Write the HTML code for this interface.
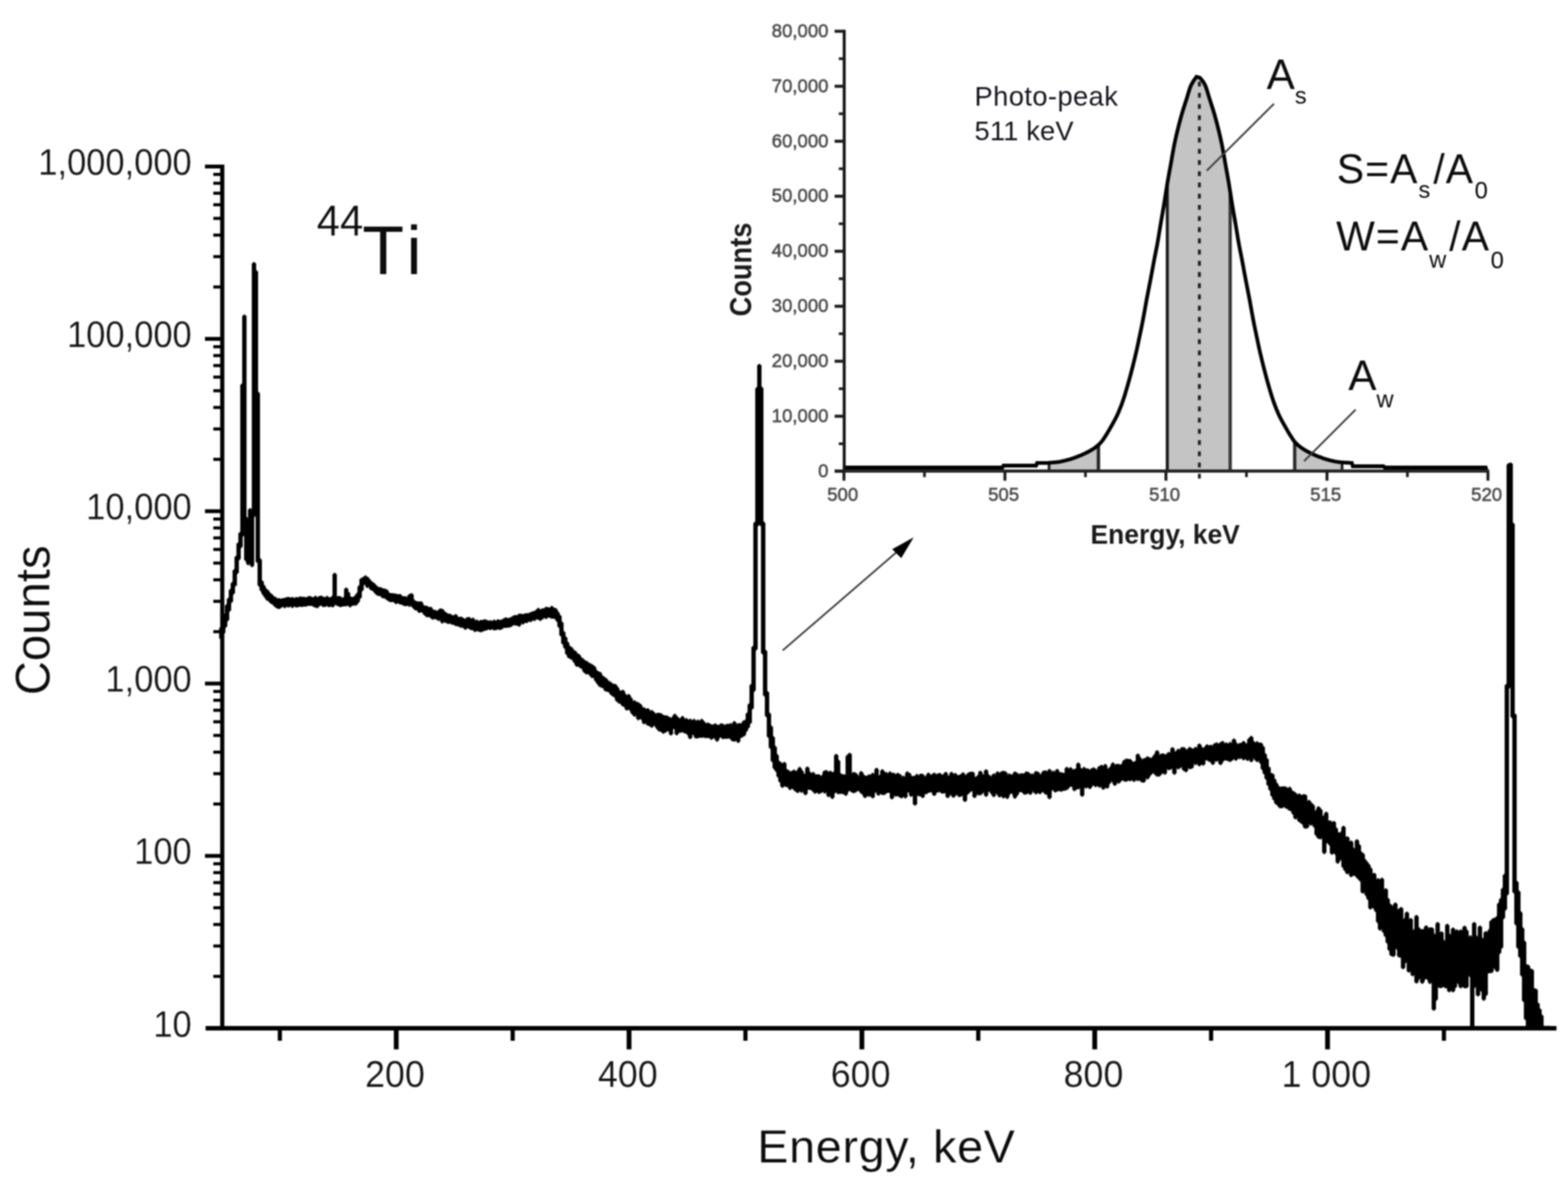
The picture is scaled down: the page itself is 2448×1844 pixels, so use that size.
<!DOCTYPE html>
<html lang="en"><head><meta charset="utf-8"><title>44Ti gamma spectrum</title>
<style>
html,body{margin:0;padding:0;background:#fff;}
body{width:2448px;height:1844px;overflow:hidden;}
svg{display:block;filter:blur(0.9px);}
text{font-family:"Liberation Sans",Arial,Helvetica,sans-serif;}
.thin{stroke:#fff;stroke-width:0.25px;stroke-linejoin:round;}
.f{stroke-width:0;}
.sub{font-size:37px;stroke-width:0;}
.t{font-size:57px;fill:#151515;}
.it{font-size:29px;fill:#4c4c4c;stroke:#4c4c4c;stroke-width:0.8px;}
</style></head><body>
<svg width="2448" height="1844" viewBox="0 0 2448 1844">
<rect x="0" y="0" width="2448" height="1844" fill="#fff"/>
<g id="inset">
<polygon points="1317.6,735.8 1317.6,729.8 1318.0,729.8 1319.5,729.8 1321.0,729.8 1322.5,729.8 1324.0,729.8 1325.5,729.8 1327.0,729.8 1328.5,729.8 1330.0,729.8 1331.5,729.8 1333.0,729.8 1334.5,729.8 1336.0,729.8 1337.5,729.8 1339.0,729.8 1340.5,729.8 1342.0,729.8 1343.5,729.8 1345.0,729.8 1346.5,729.8 1348.0,729.8 1349.5,729.8 1351.0,729.8 1352.5,729.8 1354.0,729.8 1355.5,729.8 1357.0,729.8 1358.5,729.8 1360.0,729.8 1361.5,729.8 1363.0,729.8 1364.5,729.8 1366.0,729.8 1367.5,729.8 1369.0,729.8 1370.5,729.8 1372.0,729.8 1373.5,729.8 1375.0,729.8 1376.5,729.8 1378.0,729.8 1379.5,729.8 1381.0,729.8 1382.5,729.8 1384.0,729.8 1385.5,729.8 1387.0,729.8 1388.5,729.8 1390.0,729.8 1391.5,729.8 1393.0,729.8 1394.5,729.8 1396.0,729.8 1397.5,729.8 1399.0,729.8 1400.5,729.8 1402.0,729.8 1403.5,729.8 1405.0,729.8 1406.5,729.8 1408.0,729.8 1409.5,729.8 1411.0,729.8 1412.5,729.8 1414.0,729.8 1415.5,729.8 1417.0,729.8 1418.5,729.8 1420.0,729.8 1421.5,729.8 1423.0,729.8 1424.5,729.8 1426.0,729.8 1427.5,729.8 1429.0,729.8 1430.5,729.8 1432.0,729.8 1433.5,729.8 1435.0,729.8 1436.5,729.8 1438.0,729.8 1439.5,729.8 1441.0,729.8 1442.5,729.8 1444.0,729.8 1445.5,729.8 1447.0,729.8 1448.5,729.8 1450.0,729.8 1451.5,729.8 1453.0,729.8 1454.5,729.8 1456.0,729.8 1457.5,729.8 1459.0,729.8 1460.5,729.8 1462.0,729.8 1463.5,729.8 1465.0,729.8 1466.5,729.8 1468.0,729.8 1469.5,729.8 1471.0,729.8 1472.5,729.8 1474.0,729.8 1475.5,729.8 1477.0,729.8 1478.5,729.8 1480.0,729.8 1481.5,729.8 1483.0,729.8 1484.5,729.8 1486.0,729.8 1487.5,729.8 1489.0,729.8 1490.5,729.8 1492.0,729.8 1493.5,729.8 1495.0,729.8 1496.5,729.8 1498.0,729.8 1499.5,729.8 1501.0,729.8 1502.5,729.8 1504.0,729.8 1505.5,729.8 1507.0,729.8 1508.5,729.8 1510.0,729.8 1511.5,729.8 1513.0,729.8 1514.5,729.8 1516.0,729.8 1517.5,729.8 1519.0,729.8 1520.5,729.8 1522.0,729.8 1523.5,729.8 1525.0,729.8 1526.5,729.8 1528.0,729.8 1529.5,729.8 1531.0,729.8 1532.5,729.8 1534.0,729.8 1535.5,729.8 1537.0,729.8 1538.5,729.8 1540.0,729.8 1541.5,729.8 1543.0,729.8 1544.5,729.8 1546.0,729.8 1547.5,729.8 1549.0,729.8 1550.5,729.8 1552.0,729.8 1553.5,729.8 1555.0,729.8 1556.5,729.8 1558.0,729.8 1559.5,729.8 1561.0,729.8 1562.5,729.8 1564.0,729.8 1565.5,729.8 1566.5,727.0 1566.5,735.8" fill="#000"/>
<polygon points="2161.0,735.8 2161.0,728.0 2161.0,728.0 2162.5,729.8 2164.0,729.8 2165.5,729.8 2167.0,729.8 2168.5,729.8 2170.0,729.8 2171.5,729.8 2173.0,729.8 2174.5,729.8 2176.0,729.8 2177.5,729.8 2179.0,729.8 2180.5,729.8 2182.0,729.8 2183.5,729.8 2185.0,729.8 2186.5,729.8 2188.0,729.8 2189.5,729.8 2191.0,729.8 2192.5,729.8 2194.0,729.8 2195.5,729.8 2197.0,729.8 2198.5,729.8 2200.0,729.8 2201.5,729.8 2203.0,729.8 2204.5,729.8 2206.0,729.8 2207.5,729.8 2209.0,729.8 2210.5,729.8 2212.0,729.8 2213.5,729.8 2215.0,729.8 2216.5,729.8 2218.0,729.8 2219.5,729.8 2221.0,729.8 2222.5,729.8 2224.0,729.8 2225.5,729.8 2227.0,729.8 2228.5,729.8 2230.0,729.8 2231.5,729.8 2233.0,729.8 2234.5,729.8 2236.0,729.8 2237.5,729.8 2239.0,729.8 2240.5,729.8 2242.0,729.8 2243.5,729.8 2245.0,729.8 2246.5,729.8 2248.0,729.8 2249.5,729.8 2251.0,729.8 2252.5,729.8 2254.0,729.8 2255.5,729.8 2257.0,729.8 2258.5,729.8 2260.0,729.8 2261.5,729.8 2263.0,729.8 2264.5,729.8 2266.0,729.8 2267.5,729.8 2269.0,729.8 2270.5,729.8 2272.0,729.8 2273.5,729.8 2275.0,729.8 2276.5,729.8 2278.0,729.8 2279.5,729.8 2281.0,729.8 2282.5,729.8 2284.0,729.8 2285.5,729.8 2287.0,729.8 2288.5,729.8 2290.0,729.8 2291.5,729.8 2293.0,729.8 2294.5,729.8 2296.0,729.8 2297.5,729.8 2299.0,729.8 2300.5,729.8 2302.0,729.8 2303.5,729.8 2305.0,729.8 2306.5,729.8 2308.0,729.8 2309.5,729.8 2311.0,729.8 2312.5,729.8 2314.0,729.8 2315.5,729.8 2317.0,729.8 2318.5,729.8 2320.0,729.8 2321.5,729.8 2323.0,729.8 2323.0,735.8" fill="#000"/>
<polygon points="1637.8,735.8 1637.8,722.8 1638.0,722.5 1639.5,722.4 1641.0,722.3 1642.5,722.2 1644.0,722.1 1645.5,722.0 1647.0,721.8 1648.5,721.7 1650.0,721.6 1651.5,721.4 1653.0,721.2 1654.5,720.9 1656.0,720.7 1657.5,720.4 1659.0,720.0 1660.5,719.7 1662.0,719.3 1663.5,719.0 1665.0,718.6 1666.5,718.2 1668.0,717.8 1669.5,717.4 1671.0,716.9 1672.5,716.4 1674.0,715.9 1675.5,715.4 1677.0,714.9 1678.5,714.3 1680.0,713.8 1681.5,713.2 1683.0,712.7 1684.5,712.1 1686.0,711.5 1687.5,710.8 1689.0,710.2 1690.5,709.5 1692.0,708.9 1693.5,708.2 1695.0,707.4 1696.5,706.7 1698.0,705.9 1699.5,705.2 1701.0,704.3 1702.5,703.5 1704.0,702.6 1705.5,701.7 1707.0,700.7 1708.5,699.7 1710.0,698.6 1711.5,697.5 1713.0,696.3 1714.5,695.0 1714.8,694.8 1714.8,735.8" fill="#c4c4c4"/>
<polygon points="1822.4,735.8 1822.4,286.8 1823.0,283.2 1824.5,274.7 1826.0,266.4 1827.5,258.2 1829.0,249.8 1830.5,241.1 1832.0,232.7 1833.5,225.0 1835.0,218.0 1836.5,211.4 1838.0,205.1 1839.5,199.0 1841.0,193.1 1842.5,187.4 1844.0,182.0 1845.5,176.7 1847.0,171.7 1848.5,166.9 1850.0,162.2 1851.5,157.6 1853.0,153.0 1854.5,148.0 1856.0,142.9 1857.5,138.1 1859.0,134.2 1860.5,131.1 1862.0,128.4 1863.5,126.0 1865.0,124.1 1866.5,122.4 1868.0,121.0 1869.5,119.9 1871.0,119.6 1872.5,120.6 1874.0,121.9 1875.5,123.5 1877.0,125.3 1878.5,127.6 1880.0,130.2 1881.5,133.1 1883.0,136.7 1884.5,141.2 1886.0,146.3 1887.5,151.4 1889.0,156.1 1890.5,160.7 1892.0,165.3 1893.5,170.0 1895.0,175.0 1896.5,180.2 1898.0,185.6 1899.5,191.2 1901.0,197.0 1902.5,203.0 1904.0,209.2 1905.5,215.7 1907.0,222.6 1908.5,230.1 1910.0,238.3 1911.5,246.9 1913.0,255.4 1914.5,263.7 1916.0,271.9 1917.5,280.3 1919.0,289.2 1920.5,298.8 1920.6,299.5 1920.6,735.8" fill="#c4c4c4"/>
<polygon points="2021.3,735.8 2021.3,689.8 2022.0,690.6 2023.5,692.2 2025.0,693.6 2026.5,695.0 2028.0,696.3 2029.5,697.5 2031.0,698.6 2032.5,699.7 2034.0,700.7 2035.5,701.7 2037.0,702.6 2038.5,703.5 2040.0,704.3 2041.5,705.2 2043.0,705.9 2044.5,706.7 2046.0,707.4 2047.5,708.2 2049.0,708.9 2050.5,709.5 2052.0,710.2 2053.5,710.8 2055.0,711.5 2056.5,712.1 2058.0,712.7 2059.5,713.2 2061.0,713.8 2062.5,714.3 2064.0,714.9 2065.5,715.4 2067.0,715.9 2068.5,716.4 2070.0,716.9 2071.5,717.4 2073.0,717.8 2074.5,718.2 2076.0,718.6 2077.5,719.0 2079.0,719.3 2080.5,719.7 2082.0,720.0 2083.5,720.4 2085.0,720.7 2086.5,720.9 2088.0,721.2 2089.5,721.4 2091.0,721.6 2092.5,721.7 2094.0,721.8 2095.3,722.0 2095.3,735.8" fill="#c4c4c4"/>
<line x1="1637.8" y1="722.8" x2="1637.8" y2="736" stroke="#1c1c1c" stroke-width="4.2"/>
<line x1="1714.9" y1="694.7" x2="1714.9" y2="736" stroke="#222" stroke-width="5.2"/>
<line x1="1822.4" y1="286.8" x2="1822.4" y2="736" stroke="#1c1c1c" stroke-width="4.8"/>
<line x1="1920.6" y1="299.5" x2="1920.6" y2="736" stroke="#383838" stroke-width="5.2"/>
<line x1="2021.3" y1="689.8" x2="2021.3" y2="736" stroke="#2a2a2a" stroke-width="5.2"/>
<line x1="2095.3" y1="722.0" x2="2095.3" y2="736" stroke="#1c1c1c" stroke-width="4.2"/>
<line x1="1872.5" y1="127.5" x2="1872.5" y2="748" stroke="#1c1c1c" stroke-width="4.4" stroke-dasharray="7.6 9.89"/>
<polyline points="1317.6,729.8 1319.1,729.8 1320.6,729.8 1322.1,729.8 1323.6,729.8 1325.1,729.8 1326.6,729.8 1328.1,729.8 1329.6,729.8 1331.1,729.8 1332.6,729.8 1334.1,729.8 1335.6,729.8 1337.1,729.8 1338.6,729.8 1340.1,729.8 1341.6,729.8 1343.1,729.8 1344.6,729.8 1346.1,729.8 1347.6,729.8 1349.1,729.8 1350.6,729.8 1352.1,729.8 1353.6,729.8 1355.1,729.8 1356.6,729.8 1358.1,729.8 1359.6,729.8 1361.1,729.8 1362.6,729.8 1364.1,729.8 1365.6,729.8 1367.1,729.8 1368.6,729.8 1370.1,729.8 1371.6,729.8 1373.1,729.8 1374.6,729.8 1376.1,729.8 1377.6,729.8 1379.1,729.8 1380.6,729.8 1382.1,729.8 1383.6,729.8 1385.1,729.8 1386.6,729.8 1388.1,729.8 1389.6,729.8 1391.1,729.8 1392.6,729.8 1394.1,729.8 1395.6,729.8 1397.1,729.8 1398.6,729.8 1400.1,729.8 1401.6,729.8 1403.1,729.8 1404.6,729.8 1406.1,729.8 1407.6,729.8 1409.1,729.8 1410.6,729.8 1412.1,729.8 1413.6,729.8 1415.1,729.8 1416.6,729.8 1418.1,729.8 1419.6,729.8 1421.1,729.8 1422.6,729.8 1424.1,729.8 1425.6,729.8 1427.1,729.8 1428.6,729.8 1430.1,729.8 1431.6,729.8 1433.1,729.8 1434.6,729.8 1436.1,729.8 1437.6,729.8 1439.1,729.8 1440.6,729.8 1442.1,729.8 1443.6,729.8 1445.1,729.8 1446.6,729.8 1448.1,729.8 1449.6,729.8 1451.1,729.8 1452.6,729.8 1454.1,729.8 1455.6,729.8 1457.1,729.8 1458.6,729.8 1460.1,729.8 1461.6,729.8 1463.1,729.8 1464.6,729.8 1466.1,729.8 1467.6,729.8 1469.1,729.8 1470.6,729.8 1472.1,729.8 1473.6,729.8 1475.1,729.8 1476.6,729.8 1478.1,729.8 1479.6,729.8 1481.1,729.8 1482.6,729.8 1484.1,729.8 1485.6,729.8 1487.1,729.8 1488.6,729.8 1490.1,729.8 1491.6,729.8 1493.1,729.8 1494.6,729.8 1496.1,729.8 1497.6,729.8 1499.1,729.8 1500.6,729.8 1502.1,729.8 1503.6,729.8 1505.1,729.8 1506.6,729.8 1508.1,729.8 1509.6,729.8 1511.1,729.8 1512.6,729.8 1514.1,729.8 1515.6,729.8 1517.1,729.8 1518.6,729.8 1520.1,729.8 1521.6,729.8 1523.1,729.8 1524.6,729.8 1526.1,729.8 1527.6,729.8 1529.1,729.8 1530.6,729.8 1532.1,729.8 1533.6,729.8 1535.1,729.8 1536.6,729.8 1538.1,729.8 1539.6,729.8 1541.1,729.8 1542.6,729.8 1544.1,729.8 1545.6,729.8 1547.1,729.8 1548.6,729.8 1550.1,729.8 1551.6,729.8 1553.1,729.8 1554.6,729.8 1556.1,729.8 1557.6,729.8 1559.1,729.8 1560.6,729.8 1562.1,729.8 1563.6,729.8 1565.1,729.8 1566.6,727.0 1568.1,727.0 1569.6,727.0 1571.1,727.0 1572.6,727.0 1574.1,727.0 1575.6,727.0 1577.1,727.0 1578.6,727.0 1580.1,727.0 1581.6,727.0 1583.1,727.0 1584.6,727.0 1586.1,727.0 1587.6,727.0 1589.1,727.0 1590.6,727.0 1592.1,727.0 1593.6,727.0 1595.1,727.0 1596.6,727.0 1598.1,727.0 1599.6,727.0 1601.1,727.0 1602.6,727.0 1604.1,727.0 1605.6,727.0 1607.1,727.0 1608.6,727.0 1610.1,727.0 1611.6,727.0 1613.1,727.0 1614.6,727.0 1616.1,727.0 1617.6,727.0 1619.1,722.8 1620.6,722.8 1622.1,722.8 1623.6,722.8 1625.1,722.8 1626.6,722.8 1628.1,722.8 1629.6,722.8 1631.1,722.8 1632.6,722.8 1634.1,722.8 1635.6,722.8 1637.1,722.8 1638.6,722.4 1640.1,722.3 1641.6,722.3 1643.1,722.2 1644.6,722.0 1646.1,721.9 1647.6,721.8 1649.1,721.6 1650.6,721.5 1652.1,721.3 1653.6,721.1 1655.1,720.8 1656.6,720.5 1658.1,720.2 1659.6,719.9 1661.1,719.5 1662.6,719.2 1664.1,718.8 1665.6,718.4 1667.1,718.0 1668.6,717.6 1670.1,717.2 1671.6,716.7 1673.1,716.2 1674.6,715.7 1676.1,715.2 1677.6,714.7 1679.1,714.1 1680.6,713.6 1682.1,713.0 1683.6,712.4 1685.1,711.8 1686.6,711.2 1688.1,710.6 1689.6,709.9 1691.1,709.3 1692.6,708.6 1694.1,707.9 1695.6,707.1 1697.1,706.4 1698.6,705.6 1700.1,704.8 1701.6,704.0 1703.1,703.1 1704.6,702.2 1706.1,701.3 1707.6,700.3 1709.1,699.3 1710.6,698.2 1712.1,697.0 1713.6,695.8 1715.1,694.5 1716.6,693.1 1718.1,691.6 1719.6,689.9 1721.1,688.1 1722.6,685.9 1724.1,683.6 1725.6,681.3 1727.1,678.9 1728.6,676.5 1730.1,673.9 1731.6,671.4 1733.1,668.8 1734.6,666.1 1736.1,663.5 1737.6,660.9 1739.1,658.2 1740.6,655.4 1742.1,652.5 1743.6,649.5 1745.1,646.3 1746.6,642.8 1748.1,639.2 1749.6,635.4 1751.1,631.4 1752.6,627.2 1754.1,622.9 1755.6,618.3 1757.1,613.4 1758.6,608.3 1760.1,603.2 1761.6,597.9 1763.1,592.5 1764.6,586.9 1766.1,581.2 1767.6,575.4 1769.1,569.5 1770.6,563.4 1772.1,557.2 1773.6,550.9 1775.1,544.3 1776.6,537.3 1778.1,530.1 1779.6,523.0 1781.1,515.8 1782.6,508.6 1784.1,501.0 1785.6,493.1 1787.1,484.8 1788.6,476.4 1790.1,468.1 1791.6,460.2 1793.1,452.5 1794.6,444.9 1796.1,437.2 1797.6,429.2 1799.1,421.1 1800.6,412.9 1802.1,405.0 1803.6,397.4 1805.1,389.9 1806.6,382.2 1808.1,373.7 1809.6,364.6 1811.1,355.4 1812.6,346.5 1814.1,337.8 1815.6,329.2 1817.1,320.4 1818.6,311.1 1820.1,301.4 1821.6,291.8 1823.1,282.6 1824.6,274.1 1826.1,265.9 1827.6,257.7 1829.1,249.2 1830.6,240.5 1832.1,232.2 1833.6,224.5 1835.1,217.5 1836.6,210.9 1838.1,204.7 1839.6,198.6 1841.1,192.7 1842.6,187.1 1844.1,181.6 1845.6,176.4 1847.1,171.3 1848.6,166.6 1850.1,161.9 1851.6,157.3 1853.1,152.7 1854.6,147.7 1856.1,142.5 1857.6,137.8 1859.5,133.1 1863.5,126.0 1868.0,119.8 1873.5,121.5 1878.5,127.6 1881.0,132.1 1882.5,135.4 1884.0,139.6 1885.5,144.6 1887.0,149.7 1888.5,154.6 1890.0,159.2 1891.5,163.8 1893.0,168.5 1894.5,173.3 1896.0,178.4 1897.5,183.8 1899.0,189.3 1900.5,195.0 1902.0,201.0 1903.5,207.1 1905.0,213.5 1906.5,220.3 1908.0,227.5 1909.5,235.5 1911.0,244.0 1912.5,252.6 1914.0,261.0 1915.5,269.2 1917.0,277.5 1918.5,286.2 1920.0,295.6 1921.5,305.3 1923.0,314.9 1924.5,324.0 1926.0,332.7 1927.5,341.3 1929.0,350.0 1930.5,359.1 1932.0,368.3 1933.5,377.2 1935.0,385.3 1936.5,392.9 1938.0,400.4 1939.5,408.1 1941.0,416.2 1942.5,424.4 1944.0,432.4 1945.5,440.3 1947.0,447.9 1948.5,455.6 1950.0,463.4 1951.5,471.4 1953.0,479.8 1954.5,488.2 1956.0,496.3 1957.5,504.1 1959.0,511.5 1960.5,518.7 1962.0,525.8 1963.5,533.0 1965.0,540.2 1966.5,547.0 1968.0,553.4 1969.5,559.7 1971.0,565.9 1972.5,571.9 1974.0,577.7 1975.5,583.5 1977.0,589.2 1978.5,594.7 1980.0,600.1 1981.5,605.3 1983.0,610.4 1984.5,615.4 1986.0,620.1 1987.5,624.7 1989.0,628.9 1990.5,633.0 1992.0,636.9 1993.5,640.7 1995.0,644.2 1996.5,647.6 1998.0,650.7 1999.5,653.7 2001.0,656.5 2002.5,659.2 2004.0,661.9 2005.5,664.5 2007.0,667.2 2008.5,669.8 2010.0,672.4 2011.5,674.9 2013.0,677.4 2014.5,679.9 2016.0,682.2 2017.5,684.5 2019.0,686.8 2020.5,688.9 2022.0,690.6 2023.5,692.2 2025.0,693.6 2026.5,695.0 2028.0,696.3 2029.5,697.5 2031.0,698.6 2032.5,699.7 2034.0,700.7 2035.5,701.7 2037.0,702.6 2038.5,703.5 2040.0,704.3 2041.5,705.2 2043.0,705.9 2044.5,706.7 2046.0,707.4 2047.5,708.2 2049.0,708.9 2050.5,709.5 2052.0,710.2 2053.5,710.8 2055.0,711.5 2056.5,712.1 2058.0,712.7 2059.5,713.2 2061.0,713.8 2062.5,714.3 2064.0,714.9 2065.5,715.4 2067.0,715.9 2068.5,716.4 2070.0,716.9 2071.5,717.4 2073.0,717.8 2074.5,718.2 2076.0,718.6 2077.5,719.0 2079.0,719.3 2080.5,719.7 2082.0,720.0 2083.5,720.4 2085.0,720.7 2086.5,720.9 2088.0,721.2 2089.5,721.4 2091.0,721.6 2092.5,721.7 2094.0,721.8 2095.5,722.0 2097.0,722.1 2098.5,722.2 2100.0,722.3 2101.5,722.4 2103.0,722.5 2104.5,722.5 2106.0,722.6 2107.5,722.7 2109.0,722.8 2110.5,722.8 2112.0,728.0 2113.5,728.0 2115.0,728.0 2116.5,728.0 2118.0,728.0 2119.5,728.0 2121.0,728.0 2122.5,728.0 2124.0,728.0 2125.5,728.0 2127.0,728.0 2128.5,728.0 2130.0,728.0 2131.5,728.0 2133.0,728.0 2134.5,728.0 2136.0,728.0 2137.5,728.0 2139.0,728.0 2140.5,728.0 2142.0,728.0 2143.5,728.0 2145.0,728.0 2146.5,728.0 2148.0,728.0 2149.5,728.0 2151.0,728.0 2152.5,728.0 2154.0,728.0 2155.5,728.0 2157.0,728.0 2158.5,728.0 2160.0,728.0 2161.5,729.8 2163.0,729.8 2164.5,729.8 2166.0,729.8 2167.5,729.8 2169.0,729.8 2170.5,729.8 2172.0,729.8 2173.5,729.8 2175.0,729.8 2176.5,729.8 2178.0,729.8 2179.5,729.8 2181.0,729.8 2182.5,729.8 2184.0,729.8 2185.5,729.8 2187.0,729.8 2188.5,729.8 2190.0,729.8 2191.5,729.8 2193.0,729.8 2194.5,729.8 2196.0,729.8 2197.5,729.8 2199.0,729.8 2200.5,729.8 2202.0,729.8 2203.5,729.8 2205.0,729.8 2206.5,729.8 2208.0,729.8 2209.5,729.8 2211.0,729.8 2212.5,729.8 2214.0,729.8 2215.5,729.8 2217.0,729.8 2218.5,729.8 2220.0,729.8 2221.5,729.8 2223.0,729.8 2224.5,729.8 2226.0,729.8 2227.5,729.8 2229.0,729.8 2230.5,729.8 2232.0,729.8 2233.5,729.8 2235.0,729.8 2236.5,729.8 2238.0,729.8 2239.5,729.8 2241.0,729.8 2242.5,729.8 2244.0,729.8 2245.5,729.8 2247.0,729.8 2248.5,729.8 2250.0,729.8 2251.5,729.8 2253.0,729.8 2254.5,729.8 2256.0,729.8 2257.5,729.8 2259.0,729.8 2260.5,729.8 2262.0,729.8 2263.5,729.8 2265.0,729.8 2266.5,729.8 2268.0,729.8 2269.5,729.8 2271.0,729.8 2272.5,729.8 2274.0,729.8 2275.5,729.8 2277.0,729.8 2278.5,729.8 2280.0,729.8 2281.5,729.8 2283.0,729.8 2284.5,729.8 2286.0,729.8 2287.5,729.8 2289.0,729.8 2290.5,729.8 2292.0,729.8 2293.5,729.8 2295.0,729.8 2296.5,729.8 2298.0,729.8 2299.5,729.8 2301.0,729.8 2302.5,729.8 2304.0,729.8 2305.5,729.8 2307.0,729.8 2308.5,729.8 2310.0,729.8 2311.5,729.8 2313.0,729.8 2314.5,729.8 2316.0,729.8 2317.5,729.8 2319.0,729.8 2320.5,729.8 2322.0,729.8" fill="none" stroke="#000" stroke-width="5.8" stroke-linejoin="miter"/>
<line x1="1318" y1="46.5" x2="1318" y2="738" stroke="#111" stroke-width="4.6"/>
<line x1="1303" y1="735.5" x2="2325" y2="735.5" stroke="#262626" stroke-width="5"/>
<line x1="1303" y1="735.8" x2="1318" y2="735.8" stroke="#1c1c1c" stroke-width="4.8"/>
<text class="it" x="1293.5" y="744.8" text-anchor="end">0</text>
<line x1="1309.5" y1="692.9" x2="1318" y2="692.9" stroke="#1c1c1c" stroke-width="4.2"/>
<line x1="1303" y1="649.9" x2="1318" y2="649.9" stroke="#1c1c1c" stroke-width="4.8"/>
<text class="it" x="1293.5" y="658.9" text-anchor="end">10,000</text>
<line x1="1309.5" y1="607.0" x2="1318" y2="607.0" stroke="#1c1c1c" stroke-width="4.2"/>
<line x1="1303" y1="564.0" x2="1318" y2="564.0" stroke="#1c1c1c" stroke-width="4.8"/>
<text class="it" x="1293.5" y="573.0" text-anchor="end">20,000</text>
<line x1="1309.5" y1="521.1" x2="1318" y2="521.1" stroke="#1c1c1c" stroke-width="4.2"/>
<line x1="1303" y1="478.2" x2="1318" y2="478.2" stroke="#1c1c1c" stroke-width="4.8"/>
<text class="it" x="1293.5" y="487.2" text-anchor="end">30,000</text>
<line x1="1309.5" y1="435.2" x2="1318" y2="435.2" stroke="#1c1c1c" stroke-width="4.2"/>
<line x1="1303" y1="392.3" x2="1318" y2="392.3" stroke="#1c1c1c" stroke-width="4.8"/>
<text class="it" x="1293.5" y="401.3" text-anchor="end">40,000</text>
<line x1="1309.5" y1="349.4" x2="1318" y2="349.4" stroke="#1c1c1c" stroke-width="4.2"/>
<line x1="1303" y1="306.4" x2="1318" y2="306.4" stroke="#1c1c1c" stroke-width="4.8"/>
<text class="it" x="1293.5" y="315.4" text-anchor="end">50,000</text>
<line x1="1309.5" y1="263.5" x2="1318" y2="263.5" stroke="#1c1c1c" stroke-width="4.2"/>
<line x1="1303" y1="220.5" x2="1318" y2="220.5" stroke="#1c1c1c" stroke-width="4.8"/>
<text class="it" x="1293.5" y="229.5" text-anchor="end">60,000</text>
<line x1="1309.5" y1="177.6" x2="1318" y2="177.6" stroke="#1c1c1c" stroke-width="4.2"/>
<line x1="1303" y1="134.7" x2="1318" y2="134.7" stroke="#1c1c1c" stroke-width="4.8"/>
<text class="it" x="1293.5" y="143.7" text-anchor="end">70,000</text>
<line x1="1309.5" y1="91.7" x2="1318" y2="91.7" stroke="#1c1c1c" stroke-width="4.2"/>
<line x1="1303" y1="48.8" x2="1318" y2="48.8" stroke="#1c1c1c" stroke-width="4.8"/>
<text class="it" x="1293.5" y="57.8" text-anchor="end">80,000</text>
<line x1="1317.6" y1="736" x2="1317.6" y2="750.5" stroke="#1c1c1c" stroke-width="4.6"/>
<text class="it" x="1315.6" y="782" text-anchor="middle">500</text>
<line x1="1443.3" y1="736" x2="1443.3" y2="745" stroke="#1c1c1c" stroke-width="4.2"/>
<line x1="1568.9" y1="736" x2="1568.9" y2="750.5" stroke="#1c1c1c" stroke-width="4.6"/>
<text class="it" x="1566.9" y="782" text-anchor="middle">505</text>
<line x1="1694.6" y1="736" x2="1694.6" y2="745" stroke="#1c1c1c" stroke-width="4.2"/>
<line x1="1820.3" y1="736" x2="1820.3" y2="750.5" stroke="#1c1c1c" stroke-width="4.6"/>
<text class="it" x="1818.3" y="782" text-anchor="middle">510</text>
<line x1="1946.0" y1="736" x2="1946.0" y2="745" stroke="#1c1c1c" stroke-width="4.2"/>
<line x1="2071.7" y1="736" x2="2071.7" y2="750.5" stroke="#1c1c1c" stroke-width="4.6"/>
<text class="it" x="2069.7" y="782" text-anchor="middle">515</text>
<line x1="2197.3" y1="736" x2="2197.3" y2="745" stroke="#1c1c1c" stroke-width="4.2"/>
<line x1="2323.0" y1="736" x2="2323.0" y2="750.5" stroke="#1c1c1c" stroke-width="4.6"/>
<text class="it" x="2321.0" y="782" text-anchor="middle">520</text>
<text x="0" y="0" transform="translate(1172.5,494) rotate(-90) scale(0.885,1)" font-size="48" font-weight="bold" fill="#1a1a1a">Counts</text>
<text x="0" y="0" transform="translate(1702.5,849) scale(0.96,1)" font-size="43" font-weight="bold" fill="#1a1a1a">Energy, keV</text>
<text x="1521.5" y="165" font-size="42.5" letter-spacing="0.7" fill="#14141c" class="thin" style="stroke-width:0">Photo-peak</text>
<text x="1521.5" y="219.3" font-size="42.5" letter-spacing="0.3" fill="#14141c" class="thin" style="stroke-width:0">511 keV</text>
<text x="1977.5" y="138.5" font-size="66" fill="#0c0c0c" class="thin f">A<tspan class="sub" dy="23.5">s</tspan></text>
<line x1="1989" y1="162" x2="1884" y2="266.5" stroke="#3a3a3a" stroke-width="2.8"/>
<text x="2105" y="609" font-size="66" fill="#0c0c0c" class="thin f">A<tspan class="sub" dy="26.5">w</tspan></text>
<line x1="2116.5" y1="639.5" x2="2036" y2="720" stroke="#3a3a3a" stroke-width="2.8"/>
<text x="2087" y="286" font-size="64" letter-spacing="1.6" fill="#0c0c0c" class="thin f">S=A<tspan class="sub" dy="23">s</tspan><tspan dy="-23" dx="3">/A</tspan><tspan class="sub" dy="24" dx="1">0</tspan></text>
<text x="2086" y="391" font-size="64" letter-spacing="1.6" fill="#0c0c0c" class="thin f">W=A<tspan class="sub" dy="27">w</tspan><tspan dy="-27" dx="3">/A</tspan><tspan class="sub" dy="28" dx="1">0</tspan></text>
</g>
<g id="arrow"><line x1="1222" y1="1015.5" x2="1408" y2="855" stroke="#333" stroke-width="2.6"/>
<polygon points="1426.5,839 1393,857.5 1407,871.5" fill="#000"/></g>
<g id="main">
<path d="M342.1 980.2H348.9V997.1H342.1ZM343.8 978.4H347.2V998.9H343.8ZM345.1 971.3H351.9V988.5H345.1ZM346.8 969.5H350.2V990.3H346.8ZM348.1 959.9H354.9V978.6H348.1ZM349.8 958.1H353.2V980.4H349.8ZM351.1 944.9H357.9V968.5H351.1ZM352.8 943.1H356.2V970.3H352.8ZM354.1 934.7H360.9V953.5H354.1ZM355.8 932.9H359.2V955.3H355.8ZM357.1 921.1H363.9V939.7H357.1ZM358.8 919.3H362.2V941.5H358.8ZM360.1 910.3H366.9V926.7H360.1ZM361.8 908.5H365.2V928.5H361.8ZM363.1 890.3H369.9V914.3H363.1ZM364.8 888.5H368.2V916.1H364.8ZM366.1 869.3H372.9V894.7H366.1ZM367.8 867.5H371.2V896.5H367.8ZM369.1 848.6H375.9V873.3H369.1ZM370.8 846.8H374.2V875.1H370.8ZM372.1 832.2H378.9V854.2H372.1ZM373.8 830.4H377.2V856.0H373.8ZM375.1 600.5H381.9V836.2H375.1ZM376.8 598.7H380.2V838.0H376.8ZM378.1 493.1H384.9V812.7H378.1ZM379.8 491.3H383.2V814.5H379.8ZM381.1 808.7H387.9V874.7H381.1ZM382.8 806.9H386.2V876.5H382.8ZM384.1 851.4H390.9V880.6H384.1ZM385.8 849.6H389.2V882.4H385.8ZM387.1 795.3H393.9V856.2H387.1ZM388.8 793.5H392.2V858.0H388.8ZM390.1 801.8H396.9V883.6H390.1ZM391.8 800.0H395.2V885.4H391.8ZM393.1 411.0H399.9V805.8H393.1ZM394.8 409.2H398.2V807.6H394.8ZM396.1 423.6H402.9V617.4H396.1ZM397.8 421.8H401.2V619.2H397.8ZM399.1 613.4H405.9V877.4H399.1ZM400.8 611.6H404.2V879.2H400.8ZM402.1 873.4H408.9V914.5H402.1ZM403.8 871.6H407.2V916.3H403.8ZM405.1 907.8H411.9V922.1H405.1ZM406.8 906.0H410.2V923.9H406.8ZM408.1 914.7H414.9V927.7H408.1ZM409.8 912.9H413.2V929.5H409.8ZM411.1 919.9H417.9V932.0H411.1ZM412.8 918.1H416.2V933.8H412.8ZM414.1 922.6H420.9V936.3H414.1ZM415.8 920.8H419.2V938.1H415.8ZM417.1 926.6H423.9V937.9H417.1ZM418.8 924.8H422.2V939.7H418.8ZM420.1 929.1H426.9V941.1H420.1ZM421.8 927.3H425.2V942.9H421.8ZM423.1 932.4H429.9V942.4H423.1ZM424.8 930.6H428.2V944.2H424.8ZM426.1 933.6H432.9V945.7H426.1ZM427.8 931.8H431.2V947.5H427.8ZM429.1 936.3H435.9V948.2H429.1ZM430.8 934.5H434.2V950.0H430.8ZM432.1 935.7H438.9V949.1H432.1ZM433.8 933.9H437.2V950.9H433.8ZM435.1 936.6H441.9V947.6H435.1ZM436.8 934.8H440.2V949.4H436.8ZM438.1 935.9H444.9V944.9H438.1ZM439.8 934.1H443.2V946.7H439.8ZM441.1 935.2H447.9V947.8H441.1ZM442.8 933.4H446.2V949.6H442.8ZM444.1 934.2H450.9V946.0H444.1ZM445.8 932.4H449.2V947.8H445.8ZM447.1 933.9H453.9V946.7H447.1ZM448.8 932.1H452.2V948.5H448.8ZM450.1 934.8H456.9V945.4H450.1ZM451.8 933.0H455.2V947.2H451.8ZM453.1 934.1H459.9V947.4H453.1ZM454.8 932.3H458.2V949.2H454.8ZM456.1 935.3H462.9V944.7H456.1ZM457.8 933.5H461.2V946.5H457.8ZM459.1 934.0H465.9V946.7H459.1ZM460.8 932.2H464.2V948.5H460.8ZM462.1 934.6H468.9V946.2H462.1ZM463.8 932.8H467.2V948.0H463.8ZM465.1 933.0H471.9V945.5H465.1ZM466.8 931.2H470.2V947.3H466.8ZM468.1 933.9H474.9V946.0H468.1ZM469.8 932.1H473.2V947.8H469.8ZM471.1 933.6H477.9V945.1H471.1ZM472.8 931.8H476.2V946.9H472.8ZM474.1 934.5H480.9V945.5H474.1ZM475.8 932.7H479.2V947.3H475.8ZM477.1 933.4H483.9V944.3H477.1ZM478.8 931.6H482.2V946.1H478.8ZM480.1 932.3H486.9V944.3H480.1ZM481.8 930.5H485.2V946.1H481.8ZM483.1 933.5H489.9V944.2H483.1ZM484.8 931.7H488.2V946.0H484.8ZM486.1 934.8H492.9V945.8H486.1ZM487.8 933.0H491.2V947.6H487.8ZM489.1 932.0H495.9V946.9H489.1ZM490.8 930.2H494.2V948.7H490.8ZM492.1 934.6H498.9V947.6H492.1ZM493.8 932.8H497.2V949.4H493.8ZM495.1 932.5H501.9V944.3H495.1ZM496.8 930.7H500.2V946.1H496.8ZM498.1 931.8H504.9V943.8H498.1ZM499.8 930.0H503.2V945.6H499.8ZM501.1 933.2H507.9V946.0H501.1ZM502.8 931.4H506.2V947.8H502.8ZM504.1 934.5H510.9V945.7H504.1ZM505.8 932.7H509.2V947.5H505.8ZM507.1 932.2H513.9V944.6H507.1ZM508.8 930.4H512.2V946.4H508.8ZM510.1 934.1H516.9V946.3H510.1ZM511.8 932.3H515.2V948.1H511.8ZM513.1 935.1H519.9V945.5H513.1ZM514.8 933.3H518.2V947.3H514.8ZM516.1 931.8H522.9V946.5H516.1ZM517.8 930.0H521.2V948.3H517.8ZM519.1 896.2H525.9V941.5H519.1ZM520.8 894.4H524.2V943.3H520.8ZM522.1 933.2H528.9V943.6H522.1ZM523.8 931.4H527.2V945.4H523.8ZM525.1 932.4H531.9V945.0H525.1ZM526.8 930.6H530.2V946.8H526.8ZM528.1 933.1H534.9V946.1H528.1ZM529.8 931.3H533.2V947.9H529.8ZM531.1 935.3H537.9V945.3H531.1ZM532.8 933.5H536.2V947.1H532.8ZM534.1 933.6H540.9V944.9H534.1ZM535.8 931.8H539.2V946.7H535.8ZM537.1 919.2H543.9V944.6H537.1ZM538.8 917.4H542.2V946.4H538.8ZM540.1 925.8H546.9V943.7H540.1ZM541.8 924.0H545.2V945.5H541.8ZM543.1 932.8H549.9V946.5H543.1ZM544.8 931.0H548.2V948.3H544.8ZM546.1 933.8H552.9V944.0H546.1ZM547.8 932.0H551.2V945.8H547.8ZM549.1 933.9H555.9V943.8H549.1ZM550.8 932.1H554.2V945.6H550.8ZM552.1 930.7H558.9V943.8H552.1ZM553.8 928.9H557.2V945.6H553.8ZM555.1 926.9H561.9V940.1H555.1ZM556.8 925.1H560.2V941.9H556.8ZM558.1 915.4H564.9V933.4H558.1ZM559.8 913.6H563.2V935.2H559.8ZM561.1 904.1H567.9V921.8H561.1ZM562.8 902.3H566.2V923.6H562.8ZM564.1 902.5H570.9V911.7H564.1ZM565.8 900.7H569.2V913.5H565.8ZM567.1 900.2H573.9V911.3H567.1ZM568.8 898.4H572.2V913.1H568.8ZM570.1 902.2H576.9V916.3H570.1ZM571.8 900.4H575.2V918.1H571.8ZM573.1 905.9H579.9V914.6H573.1ZM574.8 904.1H578.2V916.4H574.8ZM576.1 909.0H582.9V920.0H576.1ZM577.8 907.2H581.2V921.8H577.8ZM579.1 911.0H585.9V920.6H579.1ZM580.8 909.2H584.2V922.4H580.8ZM582.1 914.0H588.9V924.2H582.1ZM583.8 912.2H587.2V926.0H583.8ZM585.1 917.2H591.9V927.6H585.1ZM586.8 915.4H590.2V929.4H586.8ZM588.1 918.4H594.9V929.0H588.1ZM589.8 916.6H593.2V930.8H589.8ZM591.1 918.9H597.9V928.5H591.1ZM592.8 917.1H596.2V930.3H592.8ZM594.1 920.4H600.9V932.2H594.1ZM595.8 918.6H599.2V934.0H595.8ZM597.1 920.8H603.9V932.6H597.1ZM598.8 919.0H602.2V934.4H598.8ZM600.1 922.0H606.9V934.4H600.1ZM601.8 920.2H605.2V936.2H601.8ZM603.1 926.6H609.9V936.9H603.1ZM604.8 924.8H608.2V938.7H604.8ZM606.1 927.8H612.9V938.4H606.1ZM607.8 926.0H611.2V940.2H607.8ZM609.1 928.0H615.9V938.1H609.1ZM610.8 926.2H614.2V939.9H610.8ZM612.1 928.3H618.9V938.8H612.1ZM613.8 926.5H617.2V940.6H613.8ZM615.1 928.8H621.9V941.5H615.1ZM616.8 927.0H620.2V943.3H616.8ZM618.1 929.9H624.9V940.2H618.1ZM619.8 928.1H623.2V942.0H619.8ZM621.1 929.2H627.9V942.0H621.1ZM622.8 927.4H626.2V943.8H622.8ZM624.1 932.6H630.9V942.4H624.1ZM625.8 930.8H629.2V944.2H625.8ZM627.1 932.7H633.9V944.1H627.1ZM628.8 930.9H632.2V945.9H628.8ZM630.1 932.9H636.9V944.8H630.1ZM631.8 931.1H635.2V946.6H631.8ZM633.1 934.5H639.9V944.1H633.1ZM634.8 932.7H638.2V945.9H634.8ZM636.1 929.2H642.9V945.6H636.1ZM637.8 927.4H641.2V947.4H637.8ZM639.1 928.0H645.9V943.5H639.1ZM640.8 926.2H644.2V945.3H640.8ZM642.1 937.4H648.9V948.0H642.1ZM643.8 935.6H647.2V949.8H643.8ZM645.1 939.9H651.9V951.1H645.1ZM646.8 938.1H650.2V952.9H646.8ZM648.1 940.7H654.9V951.2H648.1ZM649.8 938.9H653.2V953.0H649.8ZM651.1 941.0H657.9V955.1H651.1ZM652.8 939.2H656.2V956.9H652.8ZM654.1 940.9H660.9V954.2H654.1ZM655.8 939.1H659.2V956.0H655.8ZM657.1 946.6H663.9V955.4H657.1ZM658.8 944.8H662.2V957.2H658.8ZM660.1 947.4H666.9V959.3H660.1ZM661.8 945.6H665.2V961.1H661.8ZM663.1 947.7H669.9V962.0H663.1ZM664.8 945.9H668.2V963.8H664.8ZM666.1 949.6H672.9V961.8H666.1ZM667.8 947.8H671.2V963.6H667.8ZM669.1 949.4H675.9V962.9H669.1ZM670.8 947.6H674.2V964.7H670.8ZM672.1 953.9H678.9V965.8H672.1ZM673.8 952.1H677.2V967.6H673.8ZM675.1 953.7H681.9V964.7H675.1ZM676.8 951.9H680.2V966.5H676.8ZM678.1 955.2H684.9V965.7H678.1ZM679.8 953.4H683.2V967.5H679.8ZM681.1 954.5H687.9V967.6H681.1ZM682.8 952.7H686.2V969.4H682.8ZM684.1 951.7H690.9V966.3H684.1ZM685.8 949.9H689.2V968.1H685.8ZM687.1 952.6H693.9V971.6H687.1ZM688.8 950.8H692.2V973.4H688.8ZM690.1 956.0H696.9V969.9H690.1ZM691.8 954.2H695.2V971.7H691.8ZM693.1 958.1H699.9V970.9H693.1ZM694.8 956.3H698.2V972.7H694.8ZM696.1 960.0H702.9V972.5H696.1ZM697.8 958.2H701.2V974.3H697.8ZM699.1 960.0H705.9V972.0H699.1ZM700.8 958.2H704.2V973.8H700.8ZM702.1 962.3H708.9V973.5H702.1ZM703.8 960.5H707.2V975.3H703.8ZM705.1 962.4H711.9V973.9H705.1ZM706.8 960.6H710.2V975.7H706.8ZM708.1 960.8H714.9V975.8H708.1ZM709.8 959.0H713.2V977.6H709.8ZM711.1 965.5H717.9V976.0H711.1ZM712.8 963.7H716.2V977.8H712.8ZM714.1 964.7H720.9V977.5H714.1ZM715.8 962.9H719.2V979.3H715.8ZM717.1 964.7H723.9V978.4H717.1ZM718.8 962.9H722.2V980.2H718.8ZM720.1 966.8H726.9V978.0H720.1ZM721.8 965.0H725.2V979.8H721.8ZM723.1 969.0H729.9V981.5H723.1ZM724.8 967.2H728.2V983.3H724.8ZM726.1 965.6H732.9V979.5H726.1ZM727.8 963.8H731.2V981.3H727.8ZM729.1 965.2H735.9V980.0H729.1ZM730.8 963.4H734.2V981.8H730.8ZM732.1 968.0H738.9V982.2H732.1ZM733.8 966.2H737.2V984.0H733.8ZM735.1 966.4H741.9V981.8H735.1ZM736.8 964.6H740.2V983.6H736.8ZM738.1 971.9H744.9V984.9H738.1ZM739.8 970.1H743.2V986.7H739.8ZM741.1 969.3H747.9V983.8H741.1ZM742.8 967.5H746.2V985.6H742.8ZM744.1 972.7H750.9V984.4H744.1ZM745.8 970.9H749.2V986.2H745.8ZM747.1 969.7H753.9V985.4H747.1ZM748.8 967.9H752.2V987.2H748.8ZM750.1 969.7H756.9V984.4H750.1ZM751.8 967.9H755.2V986.2H751.8ZM753.1 968.8H759.9V983.1H753.1ZM754.8 967.0H758.2V984.9H754.8ZM756.1 969.5H762.9V982.5H756.1ZM757.8 967.7H761.2V984.3H757.8ZM759.1 970.8H765.9V981.2H759.1ZM760.8 969.0H764.2V983.0H760.8ZM762.1 970.4H768.9V982.0H762.1ZM763.8 968.6H767.2V983.8H763.8ZM765.1 971.2H771.9V981.0H765.1ZM766.8 969.4H770.2V982.8H766.8ZM768.1 969.2H774.9V982.5H768.1ZM769.8 967.4H773.2V984.3H769.8ZM771.1 970.7H777.9V982.0H771.1ZM772.8 968.9H776.2V983.8H772.8ZM774.1 968.7H780.9V980.9H774.1ZM775.8 966.9H779.2V982.7H775.8ZM777.1 969.8H783.9V981.9H777.1ZM778.8 968.0H782.2V983.7H778.8ZM780.1 969.0H786.9V980.8H780.1ZM781.8 967.2H785.2V982.6H781.8ZM783.1 967.2H789.9V978.3H783.1ZM784.8 965.4H788.2V980.1H784.8ZM786.1 965.9H792.9V978.6H786.1ZM787.8 964.1H791.2V980.4H787.8ZM789.1 966.7H795.9V978.2H789.1ZM790.8 964.9H794.2V980.0H790.8ZM792.1 966.3H798.9V978.0H792.1ZM793.8 964.5H797.2V979.8H793.8ZM795.1 965.2H801.9V976.6H795.1ZM796.8 963.4H800.2V978.4H796.8ZM798.1 963.0H804.9V974.8H798.1ZM799.8 961.2H803.2V976.6H799.8ZM801.1 962.1H807.9V974.6H801.1ZM802.8 960.3H806.2V976.4H802.8ZM804.1 962.8H810.9V975.3H804.1ZM805.8 961.0H809.2V977.1H805.8ZM807.1 960.1H813.9V976.6H807.1ZM808.8 958.3H812.2V978.4H808.8ZM810.1 960.0H816.9V970.7H810.1ZM811.8 958.2H815.2V972.5H811.8ZM813.1 960.8H819.9V973.1H813.1ZM814.8 959.0H818.2V974.9H814.8ZM816.1 959.6H822.9V970.8H816.1ZM817.8 957.8H821.2V972.6H817.8ZM819.1 959.2H825.9V971.0H819.1ZM820.8 957.4H824.2V972.8H820.8ZM822.1 959.1H828.9V968.5H822.1ZM823.8 957.3H827.2V970.3H823.8ZM825.1 957.5H831.9V969.4H825.1ZM826.8 955.7H830.2V971.2H826.8ZM828.1 956.5H834.9V967.0H828.1ZM829.8 954.7H833.2V968.8H829.8ZM831.1 955.5H837.9V967.6H831.1ZM832.8 953.7H836.2V969.4H832.8ZM834.1 954.0H840.9V965.3H834.1ZM835.8 952.2H839.2V967.1H835.8ZM837.1 951.0H843.9V966.0H837.1ZM838.8 949.2H842.2V967.8H838.8ZM840.1 954.1H846.9V967.7H840.1ZM841.8 952.3H845.2V969.5H841.8ZM843.1 951.9H849.9V965.4H843.1ZM844.8 950.1H848.2V967.2H844.8ZM846.1 951.6H852.9V962.2H846.1ZM847.8 949.8H851.2V964.0H847.8ZM849.1 949.4H855.9V964.8H849.1ZM850.8 947.6H854.2V966.6H850.8ZM852.1 949.7H858.9V961.9H852.1ZM853.8 947.9H857.2V963.7H853.8ZM855.1 950.7H861.9V962.9H855.1ZM856.8 948.9H860.2V964.7H856.8ZM858.1 947.9H864.9V964.2H858.1ZM859.8 946.1H863.2V966.0H859.8ZM861.1 950.6H867.9V964.2H861.1ZM862.8 948.8H866.2V966.0H862.8ZM864.1 951.4H870.9V965.3H864.1ZM865.8 949.6H869.2V967.1H865.8ZM867.1 956.2H873.9V969.5H867.1ZM868.8 954.4H872.2V971.3H868.8ZM870.1 961.5H876.9V978.8H870.1ZM871.8 959.7H875.2V980.6H871.8ZM873.1 972.1H879.9V992.2H873.1ZM874.8 970.3H878.2V994.0H874.8ZM876.1 986.9H882.9V1004.9H876.1ZM877.8 985.1H881.2V1006.7H877.8ZM879.1 995.2H885.9V1011.6H879.1ZM880.8 993.4H884.2V1013.4H880.8ZM882.1 1003.3H888.9V1021.1H882.1ZM883.8 1001.5H887.2V1022.9H883.8ZM885.1 1009.6H891.9V1026.3H885.1ZM886.8 1007.8H890.2V1028.1H886.8ZM888.1 1011.6H894.9V1028.0H888.1ZM889.8 1009.8H893.2V1029.8H889.8ZM891.1 1015.4H897.9V1029.5H891.1ZM892.8 1013.6H896.2V1031.3H892.8ZM894.1 1017.6H900.9V1033.9H894.1ZM895.8 1015.8H899.2V1035.7H895.8ZM897.1 1021.4H903.9V1039.1H897.1ZM898.8 1019.6H902.2V1040.9H898.8ZM900.1 1022.9H906.9V1038.9H900.1ZM901.8 1021.1H905.2V1040.7H901.8ZM903.1 1027.4H909.9V1041.7H903.1ZM904.8 1025.6H908.2V1043.5H904.8ZM906.1 1029.4H912.9V1043.2H906.1ZM907.8 1027.6H911.2V1045.0H907.8ZM909.1 1032.6H915.9V1048.6H909.1ZM910.8 1030.8H914.2V1050.4H910.8ZM912.1 1033.6H918.9V1051.3H912.1ZM913.8 1031.8H917.2V1053.1H913.8ZM915.1 1036.4H921.9V1050.2H915.1ZM916.8 1034.6H920.2V1052.0H916.8ZM918.1 1037.2H924.9V1053.5H918.1ZM919.8 1035.4H923.2V1055.3H919.8ZM921.1 1039.1H927.9V1056.9H921.1ZM922.8 1037.3H926.2V1058.7H922.8ZM924.1 1041.5H930.9V1056.4H924.1ZM925.8 1039.7H929.2V1058.2H925.8ZM927.1 1047.3H933.9V1062.5H927.1ZM928.8 1045.5H932.2V1064.3H928.8ZM930.1 1049.7H936.9V1066.7H930.1ZM931.8 1047.9H935.2V1068.5H931.8ZM933.1 1050.8H939.9V1070.8H933.1ZM934.8 1049.0H938.2V1072.6H934.8ZM936.1 1055.7H942.9V1072.1H936.1ZM937.8 1053.9H941.2V1073.9H937.8ZM939.1 1057.9H945.9V1073.0H939.1ZM940.8 1056.1H944.2V1074.8H940.8ZM942.1 1060.0H948.9V1077.8H942.1ZM943.8 1058.2H947.2V1079.6H943.8ZM945.1 1063.7H951.9V1078.4H945.1ZM946.8 1061.9H950.2V1080.2H946.8ZM948.1 1065.3H954.9V1079.5H948.1ZM949.8 1063.5H953.2V1081.3H949.8ZM951.1 1067.8H957.9V1083.6H951.1ZM952.8 1066.0H956.2V1085.4H952.8ZM954.1 1069.3H960.9V1085.9H954.1ZM955.8 1067.5H959.2V1087.7H955.8ZM957.1 1069.8H963.9V1088.0H957.1ZM958.8 1068.0H962.2V1089.8H958.8ZM960.1 1073.7H966.9V1093.9H960.1ZM961.8 1071.9H965.2V1095.7H961.8ZM963.1 1079.2H969.9V1096.6H963.1ZM964.8 1077.4H968.2V1098.4H964.8ZM966.1 1080.0H972.9V1097.1H966.1ZM967.8 1078.2H971.2V1098.9H967.8ZM969.1 1079.0H975.9V1101.2H969.1ZM970.8 1077.2H974.2V1103.0H970.8ZM972.1 1084.5H978.9V1102.4H972.1ZM973.8 1082.7H977.2V1104.2H973.8ZM975.1 1088.9H981.9V1107.4H975.1ZM976.8 1087.1H980.2V1109.2H976.8ZM978.1 1085.5H984.9V1106.5H978.1ZM979.8 1083.7H983.2V1108.3H979.8ZM981.1 1090.3H987.9V1108.4H981.1ZM982.8 1088.5H986.2V1110.2H982.8ZM984.1 1096.3H990.9V1113.7H984.1ZM985.8 1094.5H989.2V1115.5H985.8ZM987.1 1095.3H993.9V1117.1H987.1ZM988.8 1093.5H992.2V1118.9H988.8ZM990.1 1097.5H996.9V1115.7H990.1ZM991.8 1095.7H995.2V1117.5H991.8ZM993.1 1098.4H999.9V1122.6H993.1ZM994.8 1096.6H998.2V1124.4H994.8ZM996.1 1100.7H1002.9V1121.1H996.1ZM997.8 1098.9H1001.2V1122.9H997.8ZM999.1 1106.1H1005.9V1122.6H999.1ZM1000.8 1104.3H1004.2V1124.4H1000.8ZM1002.1 1106.3H1008.9V1128.9H1002.1ZM1003.8 1104.5H1007.2V1130.7H1003.8ZM1005.1 1108.2H1011.9V1124.8H1005.1ZM1006.8 1106.4H1010.2V1126.6H1006.8ZM1008.1 1107.8H1014.9V1131.3H1008.1ZM1009.8 1106.0H1013.2V1133.1H1009.8ZM1011.1 1112.2H1017.9V1132.2H1011.1ZM1012.8 1110.4H1016.2V1134.0H1012.8ZM1014.1 1110.5H1020.9V1134.4H1014.1ZM1015.8 1108.7H1019.2V1136.2H1015.8ZM1017.1 1113.3H1023.9V1130.5H1017.1ZM1018.8 1111.5H1022.2V1132.3H1018.8ZM1020.1 1117.6H1026.9V1132.7H1020.1ZM1021.8 1115.8H1025.2V1134.5H1021.8ZM1023.1 1114.8H1029.9V1137.1H1023.1ZM1024.8 1113.0H1028.2V1138.9H1024.8ZM1026.1 1114.7H1032.9V1140.5H1026.1ZM1027.8 1112.9H1031.2V1142.3H1027.8ZM1029.1 1115.9H1035.9V1140.6H1029.1ZM1030.8 1114.1H1034.2V1142.4H1030.8ZM1032.1 1118.2H1038.9V1143.7H1032.1ZM1033.8 1116.4H1037.2V1145.5H1033.8ZM1035.1 1118.9H1041.9V1142.5H1035.1ZM1036.8 1117.1H1040.2V1144.3H1036.8ZM1038.1 1119.1H1044.9V1140.0H1038.1ZM1039.8 1117.3H1043.2V1141.8H1039.8ZM1041.1 1121.1H1047.9V1140.2H1041.1ZM1042.8 1119.3H1046.2V1142.0H1042.8ZM1044.1 1122.2H1050.9V1146.4H1044.1ZM1045.8 1120.4H1049.2V1148.2H1045.8ZM1047.1 1120.6H1053.9V1136.7H1047.1ZM1048.8 1118.8H1052.2V1138.5H1048.8ZM1050.1 1116.4H1056.9V1136.2H1050.1ZM1051.8 1114.6H1055.2V1138.0H1051.8ZM1053.1 1119.7H1059.9V1146.3H1053.1ZM1054.8 1117.9H1058.2V1148.1H1054.8ZM1056.1 1122.7H1062.9V1142.0H1056.1ZM1057.8 1120.9H1061.2V1143.8H1057.8ZM1059.1 1124.0H1065.9V1142.5H1059.1ZM1060.8 1122.2H1064.2V1144.3H1060.8ZM1062.1 1119.9H1068.9V1141.5H1062.1ZM1063.8 1118.1H1067.2V1143.3H1063.8ZM1065.1 1125.3H1071.9V1143.3H1065.1ZM1066.8 1123.5H1070.2V1145.1H1066.8ZM1068.1 1123.1H1074.9V1143.8H1068.1ZM1069.8 1121.3H1073.2V1145.6H1069.8ZM1071.1 1128.6H1077.9V1146.5H1071.1ZM1072.8 1126.8H1076.2V1148.3H1072.8ZM1074.1 1124.1H1080.9V1152.2H1074.1ZM1075.8 1122.3H1079.2V1154.0H1075.8ZM1077.1 1128.6H1083.9V1145.2H1077.1ZM1078.8 1126.8H1082.2V1147.0H1078.8ZM1080.1 1124.4H1086.9V1146.1H1080.1ZM1081.8 1122.6H1085.2V1147.9H1081.8ZM1083.1 1127.9H1089.9V1151.3H1083.1ZM1084.8 1126.1H1088.2V1153.1H1084.8ZM1086.1 1125.5H1092.9V1150.9H1086.1ZM1087.8 1123.7H1091.2V1152.7H1087.8ZM1089.1 1130.1H1095.9V1150.0H1089.1ZM1090.8 1128.3H1094.2V1151.8H1090.8ZM1092.1 1124.3H1098.9V1150.1H1092.1ZM1093.8 1122.5H1097.2V1151.9H1093.8ZM1095.1 1127.7H1101.9V1149.7H1095.1ZM1096.8 1125.9H1100.2V1151.5H1096.8ZM1098.1 1132.0H1104.9V1150.6H1098.1ZM1099.8 1130.2H1103.2V1152.4H1099.8ZM1101.1 1130.1H1107.9V1150.4H1101.1ZM1102.8 1128.3H1106.2V1152.2H1102.8ZM1104.1 1131.1H1110.9V1150.6H1104.1ZM1105.8 1129.3H1109.2V1152.4H1105.8ZM1107.1 1132.7H1113.9V1153.1H1107.1ZM1108.8 1130.9H1112.2V1154.9H1108.8ZM1110.1 1133.1H1116.9V1151.8H1110.1ZM1111.8 1131.3H1115.2V1153.6H1111.8ZM1113.1 1131.4H1119.9V1150.7H1113.1ZM1114.8 1129.6H1118.2V1152.5H1114.8ZM1116.1 1133.1H1122.9V1156.1H1116.1ZM1117.8 1131.3H1121.2V1157.9H1117.8ZM1119.1 1133.7H1125.9V1150.9H1119.1ZM1120.8 1131.9H1124.2V1152.7H1120.8ZM1122.1 1131.4H1128.9V1149.2H1122.1ZM1123.8 1129.6H1127.2V1151.0H1123.8ZM1125.1 1131.8H1131.9V1152.1H1125.1ZM1126.8 1130.0H1130.2V1153.9H1126.8ZM1128.1 1134.5H1134.9V1151.6H1128.1ZM1129.8 1132.7H1133.2V1153.4H1129.8ZM1131.1 1132.0H1137.9V1151.8H1131.1ZM1132.8 1130.2H1136.2V1153.6H1132.8ZM1134.1 1132.0H1140.9V1151.4H1134.1ZM1135.8 1130.2H1139.2V1153.2H1135.8ZM1137.1 1131.0H1143.9V1151.6H1137.1ZM1138.8 1129.2H1142.2V1153.4H1138.8ZM1140.1 1132.8H1146.9V1155.4H1140.1ZM1141.8 1131.0H1145.2V1157.2H1141.8ZM1143.1 1127.8H1149.9V1156.3H1143.1ZM1144.8 1126.0H1148.2V1158.1H1144.8ZM1146.1 1132.3H1152.9V1153.1H1146.1ZM1147.8 1130.5H1151.2V1154.9H1147.8ZM1149.1 1131.4H1155.9V1158.1H1149.1ZM1150.8 1129.6H1154.2V1159.9H1150.8ZM1152.1 1130.7H1158.9V1151.0H1152.1ZM1153.8 1128.9H1157.2V1152.8H1153.8ZM1155.1 1131.6H1161.9V1149.7H1155.1ZM1156.8 1129.8H1160.2V1151.5H1156.8ZM1158.1 1126.6H1164.9V1147.7H1158.1ZM1159.8 1124.8H1163.2V1149.5H1159.8ZM1161.1 1125.4H1167.9V1141.3H1161.1ZM1162.8 1123.6H1166.2V1143.1H1162.8ZM1164.1 1114.1H1170.9V1136.0H1164.1ZM1165.8 1112.3H1169.2V1137.8H1165.8ZM1167.1 1099.8H1173.9V1128.9H1167.1ZM1168.8 1098.0H1172.2V1130.7H1168.8ZM1170.1 1069.5H1176.9V1106.3H1170.1ZM1171.8 1067.7H1175.2V1108.1H1171.8ZM1173.1 1010.1H1179.9V1078.6H1173.1ZM1174.8 1008.3H1178.2V1080.4H1174.8ZM1176.1 816.2H1182.9V1014.1H1176.1ZM1177.8 814.4H1181.2V1015.9H1177.8ZM1179.1 605.9H1185.9V820.2H1179.1ZM1180.8 604.1H1184.2V822.0H1180.8ZM1182.1 570.1H1188.9V609.9H1182.1ZM1183.8 568.3H1187.2V611.7H1183.8ZM1185.1 605.5H1191.9V819.9H1185.1ZM1186.8 603.7H1190.2V821.7H1186.8ZM1188.1 815.9H1194.9V1020.3H1188.1ZM1189.8 814.1H1193.2V1022.1H1189.8ZM1191.1 1016.3H1197.9V1086.0H1191.1ZM1192.8 1014.5H1196.2V1087.8H1192.8ZM1194.1 1080.8H1200.9V1118.2H1194.1ZM1195.8 1079.0H1199.2V1120.0H1195.8ZM1197.1 1114.2H1203.9V1150.6H1197.1ZM1198.8 1112.4H1202.2V1152.4H1198.8ZM1200.1 1134.6H1206.9V1167.7H1200.1ZM1201.8 1132.8H1205.2V1169.5H1201.8ZM1203.1 1151.1H1209.9V1188.4H1203.1ZM1204.8 1149.3H1208.2V1190.2H1204.8ZM1206.1 1166.1H1212.9V1199.7H1206.1ZM1207.8 1164.3H1211.2V1201.5H1207.8ZM1209.1 1178.9H1215.9V1203.8H1209.1ZM1210.8 1177.1H1214.2V1205.6H1210.8ZM1212.1 1189.3H1218.9V1212.6H1212.1ZM1213.8 1187.5H1217.2V1214.4H1213.8ZM1215.1 1191.4H1221.9V1220.5H1215.1ZM1216.8 1189.6H1220.2V1222.3H1216.8ZM1218.1 1194.7H1224.9V1228.2H1218.1ZM1219.8 1192.9H1223.2V1230.0H1219.8ZM1221.1 1191.6H1227.9V1225.0H1221.1ZM1222.8 1189.8H1226.2V1226.8H1222.8ZM1224.1 1202.1H1230.9V1227.3H1224.1ZM1225.8 1200.3H1229.2V1229.1H1225.8ZM1227.1 1203.7H1233.9V1227.0H1227.1ZM1228.8 1201.9H1232.2V1228.8H1228.8ZM1230.1 1207.7H1236.9V1231.7H1230.1ZM1231.8 1205.9H1235.2V1233.5H1231.8ZM1233.1 1205.2H1239.9V1227.9H1233.1ZM1234.8 1203.4H1238.2V1229.7H1234.8ZM1236.1 1203.5H1242.9V1231.4H1236.1ZM1237.8 1201.7H1241.2V1233.2H1237.8ZM1239.1 1208.2H1245.9V1234.5H1239.1ZM1240.8 1206.4H1244.2V1236.3H1240.8ZM1242.1 1203.9H1248.9V1236.4H1242.1ZM1243.8 1202.1H1247.2V1238.2H1243.8ZM1245.1 1199.4H1251.9V1229.8H1245.1ZM1246.8 1197.6H1250.2V1231.6H1246.8ZM1248.1 1204.0H1254.9V1236.0H1248.1ZM1249.8 1202.2H1253.2V1237.8H1249.8ZM1251.1 1209.8H1257.9V1229.4H1251.1ZM1252.8 1208.0H1256.2V1231.2H1252.8ZM1254.1 1209.9H1260.9V1239.7H1254.1ZM1255.8 1208.1H1259.2V1241.5H1255.8ZM1257.1 1198.8H1263.9V1231.6H1257.1ZM1258.8 1197.0H1262.2V1233.4H1258.8ZM1260.1 1206.2H1266.9V1231.2H1260.1ZM1261.8 1204.4H1265.2V1233.0H1261.8ZM1263.1 1209.2H1269.9V1232.1H1263.1ZM1264.8 1207.4H1268.2V1233.9H1264.8ZM1266.1 1207.3H1272.9V1234.3H1266.1ZM1267.8 1205.5H1271.2V1236.1H1267.8ZM1269.1 1211.4H1275.9V1237.5H1269.1ZM1270.8 1209.6H1274.2V1239.3H1270.8ZM1272.1 1210.7H1278.9V1233.9H1272.1ZM1273.8 1208.9H1277.2V1235.7H1273.8ZM1275.1 1210.7H1281.9V1238.0H1275.1ZM1276.8 1208.9H1280.2V1239.8H1276.8ZM1278.1 1213.7H1284.9V1236.6H1278.1ZM1279.8 1211.9H1283.2V1238.4H1279.8ZM1281.1 1211.4H1287.9V1235.2H1281.1ZM1282.8 1209.6H1286.2V1237.0H1282.8ZM1284.1 1204.8H1290.9V1237.1H1284.1ZM1285.8 1203.0H1289.2V1238.9H1285.8ZM1287.1 1204.4H1293.9V1233.0H1287.1ZM1288.8 1202.6H1292.2V1234.8H1288.8ZM1290.1 1207.7H1296.9V1242.7H1290.1ZM1291.8 1205.9H1295.2V1244.5H1291.8ZM1293.1 1205.2H1299.9V1237.5H1293.1ZM1294.8 1203.4H1298.2V1239.3H1294.8ZM1296.1 1208.8H1302.9V1245.6H1296.1ZM1297.8 1207.0H1301.2V1247.4H1297.8ZM1299.1 1206.3H1305.9V1237.1H1299.1ZM1300.8 1204.5H1304.2V1238.9H1300.8ZM1302.1 1179.1H1308.9V1220.8H1302.1ZM1303.8 1177.3H1307.2V1222.6H1303.8ZM1305.1 1187.9H1311.9V1238.3H1305.1ZM1306.8 1186.1H1310.2V1240.1H1306.8ZM1308.1 1208.8H1314.9V1237.6H1308.1ZM1309.8 1207.0H1313.2V1239.4H1309.8ZM1311.1 1210.3H1317.9V1237.6H1311.1ZM1312.8 1208.5H1316.2V1239.4H1312.8ZM1314.1 1211.1H1320.9V1238.5H1314.1ZM1315.8 1209.3H1319.2V1240.3H1315.8ZM1317.1 1211.1H1323.9V1240.8H1317.1ZM1318.8 1209.3H1322.2V1242.6H1318.8ZM1320.1 1180.3H1326.9V1234.7H1320.1ZM1321.8 1178.5H1325.2V1236.5H1321.8ZM1323.1 1177.3H1329.9V1232.1H1323.1ZM1324.8 1175.5H1328.2V1233.9H1324.8ZM1326.1 1211.8H1332.9V1235.3H1326.1ZM1327.8 1210.0H1331.2V1237.1H1327.8ZM1329.1 1207.4H1335.9V1236.7H1329.1ZM1330.8 1205.6H1334.2V1238.5H1330.8ZM1332.1 1208.1H1338.9V1235.8H1332.1ZM1333.8 1206.3H1337.2V1237.6H1333.8ZM1335.1 1211.5H1341.9V1232.6H1335.1ZM1336.8 1209.7H1340.2V1234.4H1336.8ZM1338.1 1214.2H1344.9V1233.5H1338.1ZM1339.8 1212.4H1343.2V1235.3H1339.8ZM1341.1 1205.9H1347.9V1237.1H1341.1ZM1342.8 1204.1H1346.2V1238.9H1342.8ZM1344.1 1210.4H1350.9V1239.5H1344.1ZM1345.8 1208.6H1349.2V1241.3H1345.8ZM1347.1 1213.0H1353.9V1244.2H1347.1ZM1348.8 1211.2H1352.2V1246.0H1348.8ZM1350.1 1213.0H1356.9V1237.1H1350.1ZM1351.8 1211.2H1355.2V1238.9H1351.8ZM1353.1 1211.1H1359.9V1242.3H1353.1ZM1354.8 1209.3H1358.2V1244.1H1354.8ZM1356.1 1211.9H1362.9V1240.9H1356.1ZM1357.8 1210.1H1361.2V1242.7H1357.8ZM1359.1 1208.5H1365.9V1244.7H1359.1ZM1360.8 1206.7H1364.2V1246.5H1360.8ZM1362.1 1215.4H1368.9V1236.3H1362.1ZM1363.8 1213.6H1367.2V1238.1H1363.8ZM1365.1 1200.7H1371.9V1234.9H1365.1ZM1366.8 1198.9H1370.2V1236.7H1366.8ZM1368.1 1212.3H1374.9V1240.4H1368.1ZM1369.8 1210.5H1373.2V1242.2H1369.8ZM1371.1 1211.5H1377.9V1235.8H1371.1ZM1372.8 1209.7H1376.2V1237.6H1372.8ZM1374.1 1203.1H1380.9V1239.5H1374.1ZM1375.8 1201.3H1379.2V1241.3H1375.8ZM1377.1 1207.4H1383.9V1239.5H1377.1ZM1378.8 1205.6H1382.2V1241.3H1378.8ZM1380.1 1207.4H1386.9V1236.7H1380.1ZM1381.8 1205.6H1385.2V1238.5H1381.8ZM1383.1 1209.3H1389.9V1236.3H1383.1ZM1384.8 1207.5H1388.2V1238.1H1384.8ZM1386.1 1206.4H1392.9V1236.3H1386.1ZM1387.8 1204.6H1391.2V1238.1H1387.8ZM1389.1 1208.2H1395.9V1246.2H1389.1ZM1390.8 1206.4H1394.2V1248.0H1390.8ZM1392.1 1208.6H1398.9V1238.6H1392.1ZM1393.8 1206.8H1397.2V1240.4H1393.8ZM1395.1 1211.2H1401.9V1241.9H1395.1ZM1396.8 1209.4H1400.2V1243.7H1396.8ZM1398.1 1208.6H1404.9V1240.9H1398.1ZM1399.8 1206.8H1403.2V1242.7H1399.8ZM1401.1 1210.1H1407.9V1243.3H1401.1ZM1402.8 1208.3H1406.2V1245.1H1402.8ZM1404.1 1215.8H1410.9V1244.8H1404.1ZM1405.8 1214.0H1409.2V1246.6H1405.8ZM1407.1 1213.1H1413.9V1237.7H1407.1ZM1408.8 1211.3H1412.2V1239.5H1408.8ZM1410.1 1217.4H1416.9V1244.8H1410.1ZM1411.8 1215.6H1415.2V1246.6H1411.8ZM1413.1 1206.4H1419.9V1235.4H1413.1ZM1414.8 1204.6H1418.2V1237.2H1414.8ZM1416.1 1208.2H1422.9V1235.4H1416.1ZM1417.8 1206.4H1421.2V1237.2H1417.8ZM1419.1 1213.5H1425.9V1242.3H1419.1ZM1420.8 1211.7H1424.2V1244.1H1420.8ZM1422.1 1213.5H1428.9V1234.0H1422.1ZM1423.8 1211.7H1427.2V1235.8H1423.8ZM1425.1 1213.1H1431.9V1256.0H1425.1ZM1426.8 1211.3H1430.2V1257.8H1426.8ZM1428.1 1210.4H1434.9V1238.6H1428.1ZM1429.8 1208.6H1433.2V1240.4H1429.8ZM1431.1 1213.9H1437.9V1241.4H1431.1ZM1432.8 1212.1H1436.2V1243.2H1432.8ZM1434.1 1209.7H1440.9V1241.4H1434.1ZM1435.8 1207.9H1439.2V1243.2H1435.8ZM1437.1 1210.4H1443.9V1244.3H1437.1ZM1438.8 1208.6H1442.2V1246.1H1438.8ZM1440.1 1214.6H1446.9V1237.7H1440.1ZM1441.8 1212.8H1445.2V1239.5H1441.8ZM1443.1 1212.7H1449.9V1238.1H1443.1ZM1444.8 1210.9H1448.2V1239.9H1444.8ZM1446.1 1208.2H1452.9V1236.3H1446.1ZM1447.8 1206.4H1451.2V1238.1H1447.8ZM1449.1 1213.5H1455.9V1235.4H1449.1ZM1450.8 1211.7H1454.2V1237.2H1450.8ZM1452.1 1210.4H1458.9V1235.4H1452.1ZM1453.8 1208.6H1457.2V1237.2H1453.8ZM1455.1 1208.2H1461.9V1240.9H1455.1ZM1456.8 1206.4H1460.2V1242.7H1456.8ZM1458.1 1215.0H1464.9V1235.8H1458.1ZM1459.8 1213.2H1463.2V1237.6H1459.8ZM1461.1 1209.3H1467.9V1235.8H1461.1ZM1462.8 1207.5H1466.2V1237.6H1462.8ZM1464.1 1208.9H1470.9V1234.5H1464.1ZM1465.8 1207.1H1469.2V1236.3H1465.8ZM1467.1 1211.6H1473.9V1237.2H1467.1ZM1468.8 1209.8H1472.2V1239.0H1468.8ZM1470.1 1210.8H1476.9V1237.2H1470.1ZM1471.8 1209.0H1475.2V1239.0H1471.8ZM1473.1 1207.1H1479.9V1236.3H1473.1ZM1474.8 1205.3H1478.2V1238.1H1474.8ZM1476.1 1213.1H1482.9V1244.3H1476.1ZM1477.8 1211.3H1481.2V1246.1H1477.8ZM1479.1 1212.3H1485.9V1240.4H1479.1ZM1480.8 1210.5H1484.2V1242.2H1480.8ZM1482.1 1207.1H1488.9V1239.0H1482.1ZM1483.8 1205.3H1487.2V1240.8H1483.8ZM1485.1 1217.4H1491.9V1243.8H1485.1ZM1486.8 1215.6H1490.2V1245.6H1486.8ZM1488.1 1208.9H1494.9V1240.4H1488.1ZM1489.8 1207.1H1493.2V1242.2H1489.8ZM1491.1 1212.7H1497.9V1233.2H1491.1ZM1492.8 1210.9H1496.2V1235.0H1492.8ZM1494.1 1211.6H1500.9V1242.8H1494.1ZM1495.8 1209.8H1499.2V1244.6H1495.8ZM1497.1 1210.8H1503.9V1241.9H1497.1ZM1498.8 1209.0H1502.2V1243.7H1498.8ZM1500.1 1207.8H1506.9V1239.5H1500.1ZM1501.8 1206.0H1505.2V1241.3H1501.8ZM1503.1 1212.7H1509.9V1250.2H1503.1ZM1504.8 1210.9H1508.2V1252.0H1504.8ZM1506.1 1210.8H1512.9V1239.5H1506.1ZM1507.8 1209.0H1511.2V1241.3H1507.8ZM1509.1 1207.8H1515.9V1236.7H1509.1ZM1510.8 1206.0H1514.2V1238.5H1510.8ZM1512.1 1206.7H1518.9V1233.6H1512.1ZM1513.8 1204.9H1517.2V1235.4H1513.8ZM1515.1 1206.7H1521.9V1233.6H1515.1ZM1516.8 1204.9H1520.2V1235.4H1516.8ZM1518.1 1215.0H1524.9V1244.2H1518.1ZM1519.8 1213.2H1523.2V1246.0H1519.8ZM1521.1 1214.2H1527.9V1237.6H1521.1ZM1522.8 1212.4H1526.2V1239.4H1522.8ZM1524.1 1211.5H1530.9V1239.9H1524.1ZM1525.8 1209.7H1529.2V1241.7H1525.8ZM1527.1 1205.2H1533.9V1239.9H1527.1ZM1528.8 1203.4H1532.2V1241.7H1528.8ZM1530.1 1210.0H1536.9V1237.1H1530.1ZM1531.8 1208.2H1535.2V1238.9H1531.8ZM1533.1 1214.6H1539.9V1234.4H1533.1ZM1534.8 1212.8H1538.2V1236.2H1534.8ZM1536.1 1203.1H1542.9V1242.3H1536.1ZM1537.8 1201.3H1541.2V1244.1H1537.8ZM1539.1 1210.4H1545.9V1234.4H1539.1ZM1540.8 1208.6H1544.2V1236.2H1540.8ZM1542.1 1212.6H1548.9V1234.4H1542.1ZM1543.8 1210.8H1547.2V1236.2H1543.8ZM1545.1 1215.0H1551.9V1238.5H1545.1ZM1546.8 1213.2H1550.2V1240.3H1546.8ZM1548.1 1209.6H1554.9V1242.7H1548.1ZM1549.8 1207.8H1553.2V1244.5H1549.8ZM1551.1 1213.0H1557.9V1235.8H1551.1ZM1552.8 1211.2H1556.2V1237.6H1552.8ZM1554.1 1206.3H1560.9V1239.0H1554.1ZM1555.8 1204.5H1559.2V1240.8H1555.8ZM1557.1 1210.0H1563.9V1243.2H1557.1ZM1558.8 1208.2H1562.2V1245.0H1558.8ZM1560.1 1206.3H1566.9V1232.2H1560.1ZM1561.8 1204.5H1565.2V1234.0H1561.8ZM1563.1 1205.2H1569.9V1244.6H1563.1ZM1564.8 1203.4H1568.2V1246.4H1564.8ZM1566.1 1206.3H1572.9V1243.2H1566.1ZM1567.8 1204.5H1571.2V1245.0H1567.8ZM1569.1 1211.5H1575.9V1245.6H1569.1ZM1570.8 1209.7H1574.2V1247.4H1570.8ZM1572.1 1209.6H1578.9V1239.4H1572.1ZM1573.8 1207.8H1577.2V1241.2H1573.8ZM1575.1 1210.7H1581.9V1236.2H1575.1ZM1576.8 1208.9H1580.2V1238.0H1576.8ZM1578.1 1211.5H1584.9V1238.5H1578.1ZM1579.8 1209.7H1583.2V1240.3H1579.8ZM1581.1 1206.6H1587.9V1245.1H1581.1ZM1582.8 1204.8H1586.2V1246.9H1582.8ZM1584.1 1208.1H1590.9V1240.8H1584.1ZM1585.8 1206.3H1589.2V1242.6H1585.8ZM1587.1 1211.8H1593.9V1235.2H1587.1ZM1588.8 1210.0H1592.2V1237.0H1588.8ZM1590.1 1209.2H1596.9V1235.2H1590.1ZM1591.8 1207.4H1595.2V1237.0H1591.8ZM1593.1 1209.2H1599.9V1235.1H1593.1ZM1594.8 1207.4H1598.2V1236.9H1594.8ZM1596.1 1209.9H1602.9V1238.9H1596.1ZM1597.8 1208.1H1601.2V1240.7H1597.8ZM1599.1 1206.2H1605.9V1238.4H1599.1ZM1600.8 1204.4H1604.2V1240.2H1600.8ZM1602.1 1207.3H1608.9V1236.1H1602.1ZM1603.8 1205.5H1607.2V1237.9H1603.8ZM1605.1 1211.0H1611.9V1239.3H1605.1ZM1606.8 1209.2H1610.2V1241.1H1606.8ZM1608.1 1209.5H1614.9V1233.4H1608.1ZM1609.8 1207.7H1613.2V1235.2H1609.8ZM1611.1 1213.3H1617.9V1235.6H1611.1ZM1612.8 1211.5H1616.2V1237.4H1612.8ZM1614.1 1205.8H1620.9V1238.4H1614.1ZM1615.8 1204.0H1619.2V1240.2H1615.8ZM1617.1 1206.9H1623.9V1229.7H1617.1ZM1618.8 1205.1H1622.2V1231.5H1618.8ZM1620.1 1212.9H1626.9V1238.3H1620.1ZM1621.8 1211.1H1625.2V1240.1H1621.8ZM1623.1 1209.5H1629.9V1234.7H1623.1ZM1624.8 1207.7H1628.2V1236.5H1624.8ZM1626.1 1205.1H1632.9V1235.1H1626.1ZM1627.8 1203.3H1631.2V1236.9H1627.8ZM1629.1 1204.7H1635.9V1238.8H1629.1ZM1630.8 1202.9H1634.2V1240.6H1630.8ZM1632.1 1209.4H1638.9V1239.7H1632.1ZM1633.8 1207.6H1637.2V1241.5H1633.8ZM1635.1 1202.5H1641.9V1245.9H1635.1ZM1636.8 1200.7H1640.2V1247.7H1636.8ZM1638.1 1210.1H1644.9V1232.8H1638.1ZM1639.8 1208.3H1643.2V1234.6H1639.8ZM1641.1 1205.4H1647.9V1231.5H1641.1ZM1642.8 1203.6H1646.2V1233.3H1642.8ZM1644.1 1209.0H1650.9V1235.5H1644.1ZM1645.8 1207.2H1649.2V1237.3H1645.8ZM1647.1 1202.5H1653.9V1234.1H1647.1ZM1648.8 1200.7H1652.2V1235.9H1648.8ZM1650.1 1207.5H1656.9V1233.2H1650.1ZM1651.8 1205.7H1655.2V1235.0H1651.8ZM1653.1 1207.5H1659.9V1234.5H1653.1ZM1654.8 1205.7H1658.2V1236.3H1654.8ZM1656.1 1208.2H1662.9V1233.2H1656.1ZM1657.8 1206.4H1661.2V1235.0H1657.8ZM1659.1 1208.9H1665.9V1232.7H1659.1ZM1660.8 1207.1H1664.2V1234.5H1660.8ZM1662.1 1199.3H1668.9V1231.8H1662.1ZM1663.8 1197.5H1667.2V1233.6H1663.8ZM1665.1 1207.4H1671.9V1228.3H1665.1ZM1666.8 1205.6H1670.2V1230.1H1666.8ZM1668.1 1199.9H1674.9V1226.6H1668.1ZM1669.8 1198.1H1673.2V1228.4H1669.8ZM1671.1 1208.4H1677.9V1226.6H1671.1ZM1672.8 1206.6H1676.2V1228.4H1672.8ZM1674.1 1202.3H1680.9V1233.5H1674.1ZM1675.8 1200.5H1679.2V1235.3H1675.8ZM1677.1 1201.9H1683.9V1229.9H1677.1ZM1678.8 1200.1H1682.2V1231.7H1678.8ZM1680.1 1192.5H1686.9V1230.8H1680.1ZM1681.8 1190.7H1685.2V1232.6H1681.8ZM1683.1 1200.2H1689.9V1227.8H1683.1ZM1684.8 1198.4H1688.2V1229.6H1684.8ZM1686.1 1203.3H1692.9V1242.1H1686.1ZM1687.8 1201.5H1691.2V1243.9H1687.8ZM1689.1 1199.4H1695.9V1226.0H1689.1ZM1690.8 1197.6H1694.2V1227.8H1690.8ZM1692.1 1201.5H1698.9V1229.3H1692.1ZM1693.8 1199.7H1697.2V1231.1H1693.8ZM1695.1 1201.8H1701.9V1225.1H1695.1ZM1696.8 1200.0H1700.2V1226.9H1696.8ZM1698.1 1203.2H1704.9V1230.2H1698.1ZM1699.8 1201.4H1703.2V1232.0H1699.8ZM1701.1 1201.4H1707.9V1226.3H1701.1ZM1702.8 1199.6H1706.2V1228.1H1702.8ZM1704.1 1200.0H1710.9V1223.8H1704.1ZM1705.8 1198.2H1709.2V1225.6H1705.8ZM1707.1 1202.0H1713.9V1227.1H1707.1ZM1708.8 1200.2H1712.2V1228.9H1708.8ZM1710.1 1204.8H1716.9V1223.8H1710.1ZM1711.8 1203.0H1715.2V1225.6H1711.8ZM1713.1 1197.8H1719.9V1227.9H1713.1ZM1714.8 1196.0H1718.2V1229.7H1714.8ZM1716.1 1196.1H1722.9V1224.9H1716.1ZM1717.8 1194.3H1721.2V1226.7H1717.8ZM1719.1 1199.2H1725.9V1231.2H1719.1ZM1720.8 1197.4H1724.2V1233.0H1720.8ZM1722.1 1194.8H1728.9V1218.8H1722.1ZM1723.8 1193.0H1727.2V1220.6H1723.8ZM1725.1 1201.5H1731.9V1229.4H1725.1ZM1726.8 1199.7H1730.2V1231.2H1726.8ZM1728.1 1201.8H1734.9V1222.7H1728.1ZM1729.8 1200.0H1733.2V1224.5H1729.8ZM1731.1 1198.0H1737.9V1217.6H1731.1ZM1732.8 1196.2H1736.2V1219.4H1732.8ZM1734.1 1192.4H1740.9V1219.9H1734.1ZM1735.8 1190.6H1739.2V1221.7H1735.8ZM1737.1 1199.0H1743.9V1225.1H1737.1ZM1738.8 1197.2H1742.2V1226.9H1738.8ZM1740.1 1194.6H1746.9V1216.7H1740.1ZM1741.8 1192.8H1745.2V1218.5H1741.8ZM1743.1 1194.6H1749.9V1221.7H1743.1ZM1744.8 1192.8H1748.2V1223.5H1744.8ZM1746.1 1197.9H1752.9V1218.5H1746.1ZM1747.8 1196.1H1751.2V1220.3H1747.8ZM1749.1 1193.5H1755.9V1216.2H1749.1ZM1750.8 1191.7H1754.2V1218.0H1750.8ZM1752.1 1188.0H1758.9V1218.4H1752.1ZM1753.8 1186.2H1757.2V1220.2H1753.8ZM1755.1 1186.2H1761.9V1218.8H1755.1ZM1756.8 1184.4H1760.2V1220.6H1756.8ZM1758.1 1186.8H1764.9V1217.2H1758.1ZM1759.8 1185.0H1763.2V1219.0H1759.8ZM1761.1 1187.0H1767.9V1217.9H1761.1ZM1762.8 1185.2H1766.2V1219.7H1762.8ZM1764.1 1191.6H1770.9V1211.4H1764.1ZM1765.8 1189.8H1769.2V1213.2H1765.8ZM1767.1 1190.7H1773.9V1219.0H1767.1ZM1768.8 1188.9H1772.2V1220.8H1768.8ZM1770.1 1189.7H1776.9V1213.9H1770.1ZM1771.8 1187.9H1775.2V1215.7H1771.8ZM1773.1 1178.5H1779.9V1217.7H1773.1ZM1774.8 1176.7H1778.2V1219.5H1774.8ZM1776.1 1183.8H1782.9V1216.5H1776.1ZM1777.8 1182.0H1781.2V1218.3H1777.8ZM1779.1 1188.6H1785.9V1219.6H1779.1ZM1780.8 1186.8H1784.2V1221.4H1780.8ZM1782.1 1186.1H1788.9V1220.3H1782.1ZM1783.8 1184.3H1787.2V1222.1H1783.8ZM1785.1 1185.4H1791.9V1212.6H1785.1ZM1786.8 1183.6H1790.2V1214.4H1786.8ZM1788.1 1182.7H1794.9V1215.1H1788.1ZM1789.8 1180.9H1793.2V1216.9H1789.8ZM1791.1 1184.4H1797.9V1210.6H1791.1ZM1792.8 1182.6H1796.2V1212.4H1792.8ZM1794.1 1185.9H1800.9V1207.3H1794.1ZM1795.8 1184.1H1799.2V1209.1H1795.8ZM1797.1 1182.8H1803.9V1204.1H1797.1ZM1798.8 1181.0H1802.2V1205.9H1798.8ZM1800.1 1178.7H1806.9V1207.9H1800.1ZM1801.8 1176.9H1805.2V1209.7H1801.8ZM1803.1 1173.3H1809.9V1210.7H1803.1ZM1804.8 1171.5H1808.2V1212.5H1804.8ZM1806.1 1181.5H1812.9V1210.7H1806.1ZM1807.8 1179.7H1811.2V1212.5H1807.8ZM1809.1 1178.9H1815.9V1207.7H1809.1ZM1810.8 1177.1H1814.2V1209.5H1810.8ZM1812.1 1178.0H1818.9V1201.7H1812.1ZM1813.8 1176.2H1817.2V1203.5H1813.8ZM1815.1 1179.4H1821.9V1207.7H1815.1ZM1816.8 1177.6H1820.2V1209.5H1816.8ZM1818.1 1179.9H1824.9V1199.0H1818.1ZM1819.8 1178.1H1823.2V1200.8H1819.8ZM1821.1 1176.1H1827.9V1200.7H1821.1ZM1822.8 1174.3H1826.2V1202.5H1822.8ZM1824.1 1176.7H1830.9V1199.9H1824.1ZM1825.8 1174.9H1829.2V1201.7H1825.8ZM1827.1 1168.5H1833.9V1197.6H1827.1ZM1828.8 1166.7H1832.2V1199.4H1828.8ZM1830.1 1174.7H1836.9V1207.7H1830.1ZM1831.8 1172.9H1835.2V1209.5H1831.8ZM1833.1 1175.2H1839.9V1196.8H1833.1ZM1834.8 1173.4H1838.2V1198.6H1834.8ZM1836.1 1171.0H1842.9V1199.4H1836.1ZM1837.8 1169.2H1841.2V1201.2H1837.8ZM1839.1 1173.1H1845.9V1197.4H1839.1ZM1840.8 1171.3H1844.2V1199.2H1840.8ZM1842.1 1168.3H1848.9V1192.1H1842.1ZM1843.8 1166.5H1847.2V1193.9H1843.8ZM1845.1 1168.5H1851.9V1201.9H1845.1ZM1846.8 1166.7H1850.2V1203.7H1846.8ZM1848.1 1172.5H1854.9V1203.9H1848.1ZM1849.8 1170.7H1853.2V1205.7H1849.8ZM1851.1 1171.6H1857.9V1195.6H1851.1ZM1852.8 1169.8H1856.2V1197.4H1852.8ZM1854.1 1168.1H1860.9V1199.1H1854.1ZM1855.8 1166.3H1859.2V1200.9H1855.8ZM1857.1 1170.0H1863.9V1198.4H1857.1ZM1858.8 1168.2H1862.2V1200.2H1858.8ZM1860.1 1171.5H1866.9V1190.8H1860.1ZM1861.8 1169.7H1865.2V1192.6H1861.8ZM1863.1 1168.0H1869.9V1192.6H1863.1ZM1864.8 1166.2H1868.2V1194.4H1864.8ZM1866.1 1171.4H1872.9V1190.4H1866.1ZM1867.8 1169.6H1871.2V1192.2H1867.8ZM1869.1 1162.8H1875.9V1194.7H1869.1ZM1870.8 1161.0H1874.2V1196.5H1870.8ZM1872.1 1167.6H1878.9V1189.1H1872.1ZM1873.8 1165.8H1877.2V1190.9H1873.8ZM1875.1 1169.4H1881.9V1193.4H1875.1ZM1876.8 1167.6H1880.2V1195.2H1876.8ZM1878.1 1167.8H1884.9V1185.1H1878.1ZM1879.8 1166.0H1883.2V1186.9H1879.8ZM1881.1 1164.0H1887.9V1185.7H1881.1ZM1882.8 1162.2H1886.2V1187.5H1882.8ZM1884.1 1165.5H1890.9V1187.4H1884.1ZM1885.8 1163.7H1889.2V1189.2H1885.8ZM1887.1 1164.7H1893.9V1188.3H1887.1ZM1888.8 1162.9H1892.2V1190.1H1888.8ZM1890.1 1166.9H1896.9V1192.5H1890.1ZM1891.8 1165.1H1895.2V1194.3H1891.8ZM1893.1 1162.3H1899.9V1186.4H1893.1ZM1894.8 1160.5H1898.2V1188.2H1894.8ZM1896.1 1161.0H1902.9V1187.5H1896.1ZM1897.8 1159.2H1901.2V1189.3H1897.8ZM1899.1 1166.8H1905.9V1185.7H1899.1ZM1900.8 1165.0H1904.2V1187.5H1900.8ZM1902.1 1160.8H1908.9V1192.7H1902.1ZM1903.8 1159.0H1907.2V1194.5H1903.8ZM1905.1 1158.8H1911.9V1188.1H1905.1ZM1906.8 1157.0H1910.2V1189.9H1906.8ZM1908.1 1163.0H1914.9V1185.1H1908.1ZM1909.8 1161.2H1913.2V1186.9H1909.8ZM1911.1 1161.0H1917.9V1185.7H1911.1ZM1912.8 1159.2H1916.2V1187.5H1912.8ZM1914.1 1165.7H1920.9V1186.8H1914.1ZM1915.8 1163.9H1919.2V1188.6H1915.8ZM1917.1 1160.4H1923.9V1188.0H1917.1ZM1918.8 1158.6H1922.2V1189.8H1918.8ZM1920.1 1162.9H1926.9V1185.6H1920.1ZM1921.8 1161.1H1925.2V1187.4H1921.8ZM1923.1 1155.1H1929.9V1183.3H1923.1ZM1924.8 1153.3H1928.2V1185.1H1924.8ZM1926.1 1160.9H1932.9V1185.9H1926.1ZM1927.8 1159.1H1931.2V1187.7H1927.8ZM1929.1 1165.4H1935.9V1178.5H1929.1ZM1930.8 1163.6H1934.2V1180.3H1930.8ZM1932.1 1161.9H1938.9V1183.5H1932.1ZM1933.8 1160.1H1937.2V1185.3H1933.8ZM1935.1 1162.1H1941.9V1180.1H1935.1ZM1936.8 1160.3H1940.2V1181.9H1936.8ZM1938.1 1158.7H1944.9V1185.3H1938.1ZM1939.8 1156.9H1943.2V1187.1H1939.8ZM1941.1 1163.3H1947.9V1182.6H1941.1ZM1942.8 1161.5H1946.2V1184.4H1942.8ZM1944.1 1162.1H1950.9V1186.1H1944.1ZM1945.8 1160.3H1949.2V1187.9H1945.8ZM1947.1 1154.1H1953.9V1184.3H1947.1ZM1948.8 1152.3H1952.2V1186.1H1948.8ZM1950.1 1150.9H1956.9V1188.2H1950.1ZM1951.8 1149.1H1955.2V1190.0H1951.8ZM1953.1 1158.6H1959.9V1182.3H1953.1ZM1954.8 1156.8H1958.2V1184.1H1954.8ZM1956.1 1162.1H1962.9V1184.3H1956.1ZM1957.8 1160.3H1961.2V1186.1H1957.8ZM1959.1 1159.2H1965.9V1187.9H1959.1ZM1960.8 1157.4H1964.2V1189.7H1960.8ZM1962.1 1161.2H1968.9V1185.2H1962.1ZM1963.8 1159.4H1967.2V1187.0H1963.8ZM1965.1 1161.2H1971.9V1191.0H1965.1ZM1966.8 1159.4H1970.2V1192.8H1966.8ZM1968.1 1166.2H1974.9V1200.8H1968.1ZM1969.8 1164.4H1973.2V1202.6H1969.8ZM1971.1 1177.6H1977.9V1207.7H1971.1ZM1972.8 1175.8H1976.2V1209.5H1972.8ZM1974.1 1185.3H1980.9V1215.9H1974.1ZM1975.8 1183.5H1979.2V1217.7H1975.8ZM1977.1 1198.5H1983.9V1225.8H1977.1ZM1978.8 1196.7H1982.2V1227.6H1978.8ZM1980.1 1208.4H1986.9V1233.2H1980.1ZM1981.8 1206.6H1985.2V1235.0H1981.8ZM1983.1 1209.2H1989.9V1242.5H1983.1ZM1984.8 1207.4H1988.2V1244.3H1984.8ZM1986.1 1217.2H1992.9V1248.3H1986.1ZM1987.8 1215.4H1991.2V1250.1H1987.8ZM1989.1 1223.5H1995.9V1254.3H1989.1ZM1990.8 1221.7H1994.2V1256.1H1990.8ZM1992.1 1228.3H1998.9V1256.8H1992.1ZM1993.8 1226.5H1997.2V1258.6H1993.8ZM1995.1 1230.3H2001.9V1260.2H1995.1ZM1996.8 1228.5H2000.2V1262.0H1996.8ZM1998.1 1229.9H2004.9V1260.3H1998.1ZM1999.8 1228.1H2003.2V1262.1H1999.8ZM2001.1 1229.6H2007.9V1258.2H2001.1ZM2002.8 1227.8H2006.2V1260.0H2002.8ZM2004.1 1230.1H2010.9V1260.5H2004.1ZM2005.8 1228.3H2009.2V1262.3H2005.8ZM2007.1 1239.1H2013.9V1261.8H2007.1ZM2008.8 1237.3H2012.2V1263.6H2008.8ZM2010.1 1230.4H2016.9V1264.2H2010.1ZM2011.8 1228.6H2015.2V1266.0H2011.8ZM2013.1 1235.5H2019.9V1264.9H2013.1ZM2014.8 1233.7H2018.2V1266.7H2014.8ZM2016.1 1237.0H2022.9V1270.5H2016.1ZM2017.8 1235.2H2021.2V1272.3H2017.8ZM2019.1 1239.5H2025.9V1277.5H2019.1ZM2020.8 1237.7H2024.2V1279.3H2020.8ZM2022.1 1244.1H2028.9V1270.2H2022.1ZM2023.8 1242.3H2027.2V1272.0H2023.8ZM2025.1 1240.7H2031.9V1281.7H2025.1ZM2026.8 1238.9H2030.2V1283.5H2026.8ZM2028.1 1248.9H2034.9V1284.0H2028.1ZM2029.8 1247.1H2033.2V1285.8H2029.8ZM2031.1 1242.0H2037.9V1286.2H2031.1ZM2032.8 1240.2H2036.2V1288.0H2032.8ZM2034.1 1242.1H2040.9V1292.0H2034.1ZM2035.8 1240.3H2039.2V1293.8H2035.8ZM2037.1 1256.1H2043.9V1291.7H2037.1ZM2038.8 1254.3H2042.2V1293.5H2038.8ZM2040.1 1250.7H2046.9V1284.6H2040.1ZM2041.8 1248.9H2045.2V1286.4H2041.8ZM2043.1 1254.6H2049.9V1287.1H2043.1ZM2044.8 1252.8H2048.2V1288.9H2044.8ZM2046.1 1257.4H2052.9V1285.8H2046.1ZM2047.8 1255.6H2051.2V1287.6H2047.8ZM2049.1 1267.6H2055.9V1290.8H2049.1ZM2050.8 1265.8H2054.2V1292.6H2050.8ZM2052.1 1266.5H2058.9V1303.4H2052.1ZM2053.8 1264.7H2057.2V1305.2H2053.8ZM2055.1 1260.8H2061.9V1307.7H2055.1ZM2056.8 1259.0H2060.2V1309.5H2056.8ZM2058.1 1264.4H2064.9V1308.7H2058.1ZM2059.8 1262.6H2063.2V1310.5H2059.8ZM2061.1 1276.0H2067.9V1307.2H2061.1ZM2062.8 1274.2H2066.2V1309.0H2062.8ZM2064.1 1274.9H2070.9V1331.6H2064.1ZM2065.8 1273.1H2069.2V1333.4H2065.8ZM2067.1 1269.2H2073.9V1314.7H2067.1ZM2068.8 1267.4H2072.2V1316.5H2068.8ZM2070.1 1283.3H2076.9V1315.0H2070.1ZM2071.8 1281.5H2075.2V1316.8H2071.8ZM2073.1 1282.7H2079.9V1318.8H2073.1ZM2074.8 1280.9H2078.2V1320.6H2074.8ZM2076.1 1289.5H2082.9V1332.6H2076.1ZM2077.8 1287.7H2081.2V1334.4H2077.8ZM2079.1 1283.8H2085.9V1327.0H2079.1ZM2080.8 1282.0H2084.2V1328.8H2080.8ZM2082.1 1293.5H2088.9V1333.1H2082.1ZM2083.8 1291.7H2087.2V1334.9H2083.8ZM2085.1 1300.8H2091.9V1346.6H2085.1ZM2086.8 1299.0H2090.2V1348.4H2086.8ZM2088.1 1302.0H2094.9V1341.2H2088.1ZM2089.8 1300.2H2093.2V1343.0H2089.8ZM2091.1 1299.7H2097.9V1341.6H2091.1ZM2092.8 1297.9H2096.2V1343.4H2092.8ZM2094.1 1291.3H2100.9V1353.6H2094.1ZM2095.8 1289.5H2099.2V1355.4H2095.8ZM2097.1 1308.4H2103.9V1358.8H2097.1ZM2098.8 1306.6H2102.2V1360.6H2098.8ZM2100.1 1307.7H2106.9V1363.2H2100.1ZM2101.8 1305.9H2105.2V1365.0H2101.8ZM2103.1 1315.9H2109.9V1353.2H2103.1ZM2104.8 1314.1H2108.2V1355.0H2104.8ZM2106.1 1314.4H2112.9V1367.8H2106.1ZM2107.8 1312.6H2111.2V1369.6H2107.8ZM2109.1 1325.1H2115.9V1365.4H2109.1ZM2110.8 1323.3H2114.2V1367.2H2110.8ZM2112.1 1327.4H2118.9V1365.6H2112.1ZM2113.8 1325.6H2117.2V1367.4H2113.8ZM2115.1 1312.2H2121.9V1368.6H2115.1ZM2116.8 1310.4H2120.2V1370.4H2116.8ZM2118.1 1319.8H2124.9V1371.8H2118.1ZM2119.8 1318.0H2123.2V1373.6H2119.8ZM2121.1 1331.1H2127.9V1375.0H2121.1ZM2122.8 1329.3H2126.2V1376.8H2122.8ZM2124.1 1333.6H2130.9V1393.3H2124.1ZM2125.8 1331.8H2129.2V1395.1H2125.8ZM2127.1 1342.7H2133.9V1385.1H2127.1ZM2128.8 1340.9H2132.2V1386.9H2128.8ZM2130.1 1346.5H2136.9V1397.6H2130.1ZM2131.8 1344.7H2135.2V1399.4H2131.8ZM2133.1 1350.5H2139.9V1403.7H2133.1ZM2134.8 1348.7H2138.2V1405.5H2134.8ZM2136.1 1356.2H2142.9V1418.2H2136.1ZM2137.8 1354.4H2141.2V1420.0H2137.8ZM2139.1 1365.9H2145.9V1412.5H2139.1ZM2140.8 1364.1H2144.2V1414.3H2140.8ZM2142.1 1364.8H2148.9V1417.5H2142.1ZM2143.8 1363.0H2147.2V1419.3H2143.8ZM2145.1 1380.4H2151.9V1422.4H2145.1ZM2146.8 1378.6H2150.2V1424.2H2146.8ZM2148.1 1373.0H2154.9V1439.6H2148.1ZM2149.8 1371.2H2153.2V1441.4H2149.8ZM2151.1 1387.8H2157.9V1451.1H2151.1ZM2152.8 1386.0H2156.2V1452.9H2152.8ZM2154.1 1372.2H2160.9V1433.3H2154.1ZM2155.8 1370.4H2159.2V1435.1H2155.8ZM2157.1 1409.2H2163.9V1455.0H2157.1ZM2158.8 1407.4H2162.2V1456.8H2158.8ZM2160.1 1388.7H2166.9V1461.4H2160.1ZM2161.8 1386.9H2165.2V1463.2H2161.8ZM2163.1 1403.8H2169.9V1471.8H2163.1ZM2164.8 1402.0H2168.2V1473.6H2164.8ZM2166.1 1412.3H2172.9V1483.2H2166.1ZM2167.8 1410.5H2171.2V1485.0H2167.8ZM2169.1 1414.8H2175.9V1491.2H2169.1ZM2170.8 1413.0H2174.2V1493.0H2170.8ZM2172.1 1417.2H2178.9V1492.1H2172.1ZM2173.8 1415.4H2177.2V1493.9H2173.8ZM2175.1 1411.0H2181.9V1470.3H2175.1ZM2176.8 1409.2H2180.2V1472.1H2176.8ZM2178.1 1434.3H2184.9V1481.2H2178.1ZM2179.8 1432.5H2183.2V1483.0H2179.8ZM2181.1 1420.2H2187.9V1493.1H2181.1ZM2182.8 1418.4H2186.2V1494.9H2182.8ZM2184.1 1418.0H2190.9V1493.5H2184.1ZM2185.8 1416.2H2189.2V1495.3H2185.8ZM2187.1 1443.0H2193.9V1511.5H2187.1ZM2188.8 1441.2H2192.2V1513.3H2188.8ZM2190.1 1435.1H2196.9V1502.4H2190.1ZM2191.8 1433.3H2195.2V1504.2H2191.8ZM2193.1 1425.3H2199.9V1494.0H2193.1ZM2194.8 1423.5H2198.2V1495.8H2194.8ZM2196.1 1443.6H2202.9V1516.8H2196.1ZM2197.8 1441.8H2201.2V1518.6H2197.8ZM2199.1 1435.3H2205.9V1503.0H2199.1ZM2200.8 1433.5H2204.2V1504.8H2200.8ZM2202.1 1455.1H2208.9V1522.4H2202.1ZM2203.8 1453.3H2207.2V1524.2H2203.8ZM2205.1 1452.2H2211.9V1517.5H2205.1ZM2206.8 1450.4H2210.2V1519.3H2206.8ZM2208.1 1430.6H2214.9V1533.8H2208.1ZM2209.8 1428.8H2213.2V1535.6H2209.8ZM2211.1 1449.4H2217.9V1528.3H2211.1ZM2212.8 1447.6H2216.2V1530.1H2212.8ZM2214.1 1452.5H2220.9V1523.1H2214.1ZM2215.8 1450.7H2219.2V1524.9H2215.8ZM2217.1 1452.5H2223.9V1534.2H2217.1ZM2218.8 1450.7H2222.2V1536.0H2218.8ZM2220.1 1452.6H2226.9V1528.6H2220.1ZM2221.8 1450.8H2225.2V1530.4H2221.8ZM2223.1 1446.8H2229.9V1523.3H2223.1ZM2224.8 1445.0H2228.2V1525.1H2224.8ZM2226.1 1455.7H2232.9V1528.8H2226.1ZM2227.8 1453.9H2231.2V1530.6H2227.8ZM2229.1 1449.8H2235.9V1534.5H2229.1ZM2230.8 1448.0H2234.2V1536.3H2230.8ZM2232.1 1449.8H2238.9V1529.0H2232.1ZM2233.8 1448.0H2237.2V1530.8H2233.8ZM2235.1 1459.0H2241.9V1576.3H2235.1ZM2236.8 1457.2H2240.2V1578.1H2236.8ZM2238.1 1465.5H2244.9V1560.9H2238.1ZM2239.8 1463.7H2243.2V1562.7H2239.8ZM2241.1 1441.5H2247.9V1529.2H2241.1ZM2242.8 1439.7H2246.2V1531.0H2242.8ZM2244.1 1465.6H2250.9V1541.0H2244.1ZM2245.8 1463.8H2249.2V1542.8H2245.8ZM2247.1 1456.0H2253.9V1541.0H2247.1ZM2248.8 1454.2H2252.2V1542.8H2248.8ZM2250.1 1469.0H2256.9V1535.1H2250.1ZM2251.8 1467.2H2255.2V1536.9H2251.8ZM2253.1 1472.5H2259.9V1541.1H2253.1ZM2254.8 1470.7H2258.2V1542.9H2254.8ZM2256.1 1444.3H2262.9V1541.1H2256.1ZM2257.8 1442.5H2261.2V1542.9H2257.8ZM2259.1 1459.2H2265.9V1547.5H2259.1ZM2260.8 1457.4H2264.2V1549.3H2260.8ZM2262.1 1469.1H2268.9V1529.4H2262.1ZM2263.8 1467.3H2267.2V1531.2H2263.8ZM2265.1 1450.1H2271.9V1547.5H2265.1ZM2266.8 1448.3H2270.2V1549.3H2266.8ZM2268.1 1459.2H2274.9V1541.2H2268.1ZM2269.8 1457.4H2273.2V1543.0H2269.8ZM2271.1 1453.0H2277.9V1529.5H2271.1ZM2272.8 1451.2H2276.2V1531.3H2272.8ZM2274.1 1476.2H2280.9V1535.2H2274.1ZM2275.8 1474.4H2279.2V1537.0H2275.8ZM2277.1 1453.1H2283.9V1541.2H2277.1ZM2278.8 1451.3H2282.2V1543.0H2278.8ZM2280.1 1459.2H2286.9V1518.9H2280.1ZM2281.8 1457.4H2285.2V1520.7H2281.8ZM2283.1 1447.2H2289.9V1541.2H2283.1ZM2284.8 1445.4H2288.2V1543.0H2284.8ZM2286.1 1453.0H2292.9V1541.2H2286.1ZM2287.8 1451.2H2291.2V1543.0H2287.8ZM2289.1 1469.1H2295.9V1513.8H2289.1ZM2290.8 1467.3H2294.2V1515.6H2290.8ZM2292.1 1462.4H2298.9V1524.0H2292.1ZM2293.8 1460.6H2297.2V1525.8H2293.8ZM2295.1 1479.9H2301.9V1606.5H2295.1ZM2296.8 1478.1H2300.2V1606.5H2296.8ZM2298.1 1441.6H2304.9V1541.1H2298.1ZM2299.8 1439.8H2303.2V1542.9H2299.8ZM2301.1 1462.3H2307.9V1529.3H2301.1ZM2302.8 1460.5H2306.2V1531.1H2302.8ZM2304.1 1468.9H2310.9V1553.9H2304.1ZM2305.8 1467.1H2309.2V1555.7H2305.8ZM2307.1 1447.0H2313.9V1523.7H2307.1ZM2308.8 1445.2H2312.2V1525.5H2308.8ZM2310.1 1465.5H2316.9V1547.0H2310.1ZM2311.8 1463.7H2315.2V1548.8H2311.8ZM2313.1 1468.7H2319.9V1560.6H2313.1ZM2314.8 1466.9H2318.2V1562.4H2314.8ZM2316.1 1455.7H2322.9V1553.5H2316.1ZM2317.8 1453.9H2321.2V1555.3H2317.8ZM2319.1 1458.6H2325.9V1518.1H2319.1ZM2320.8 1456.8H2324.2V1519.9H2320.8ZM2322.1 1452.4H2328.9V1517.8H2322.1ZM2323.8 1450.6H2327.2V1519.6H2323.8ZM2325.1 1438.3H2331.9V1517.5H2325.1ZM2326.8 1436.5H2330.2V1519.3H2326.8ZM2328.1 1435.4H2334.9V1503.0H2328.1ZM2329.8 1433.6H2333.2V1504.8H2329.8ZM2331.1 1434.9H2337.9V1511.7H2331.1ZM2332.8 1433.1H2336.2V1513.5H2332.8ZM2334.1 1432.0H2340.9V1515.8H2334.1ZM2335.8 1430.2H2339.2V1517.6H2335.8ZM2337.1 1410.9H2343.9V1488.1H2337.1ZM2338.8 1409.1H2342.2V1489.9H2338.8ZM2340.1 1403.8H2346.9V1479.7H2340.1ZM2341.8 1402.0H2345.2V1481.5H2341.8ZM2343.1 1387.9H2349.9V1433.6H2343.1ZM2344.8 1386.1H2348.2V1435.4H2344.8ZM2346.1 1366.0H2352.9V1420.1H2346.1ZM2347.8 1364.2H2351.2V1421.9H2347.8ZM2349.1 1069.5H2355.9V1396.5H2349.1ZM2350.8 1067.7H2354.2V1398.3H2350.8ZM2352.1 725.1H2358.9V1073.5H2352.1ZM2353.8 723.3H2357.2V1075.3H2353.8ZM2355.1 724.1H2361.9V821.8H2355.1ZM2356.8 722.3H2360.2V823.6H2356.8ZM2358.1 817.8H2364.9V1119.8H2358.1ZM2359.8 816.0H2363.2V1121.6H2359.8ZM2361.1 1115.8H2367.9V1393.5H2361.1ZM2362.8 1114.0H2366.2V1395.3H2362.8ZM2364.1 1377.1H2370.9V1443.2H2364.1ZM2365.8 1375.3H2369.2V1445.0H2365.8ZM2367.1 1391.9H2373.9V1479.7H2367.1ZM2368.8 1390.1H2372.2V1481.5H2368.8ZM2370.1 1424.5H2376.9V1493.9H2370.1ZM2371.8 1422.7H2375.2V1495.7H2371.8ZM2373.1 1449.5H2379.9V1523.1H2373.1ZM2374.8 1447.7H2378.2V1524.9H2374.8ZM2376.1 1470.5H2382.9V1563.0H2376.1ZM2377.8 1468.7H2381.2V1564.8H2377.8ZM2379.1 1507.4H2385.9V1591.2H2379.1ZM2380.8 1505.6H2384.2V1593.0H2380.8ZM2382.1 1508.1H2388.9V1606.5H2382.1ZM2383.8 1506.3H2387.2V1606.5H2383.8ZM2385.1 1513.9H2391.9V1606.5H2385.1ZM2386.8 1512.1H2390.2V1606.5H2386.8ZM2388.1 1514.7H2394.9V1606.5H2388.1ZM2389.8 1512.9H2393.2V1606.5H2389.8ZM2391.1 1544.5H2397.9V1606.5H2391.1ZM2392.8 1542.7H2396.2V1606.5H2392.8ZM2394.1 1545.3H2400.9V1606.5H2394.1ZM2395.8 1543.5H2399.2V1606.5H2395.8ZM2397.1 1567.1H2403.9V1606.5H2397.1ZM2398.8 1565.3H2402.2V1606.5H2398.8ZM2400.1 1576.0H2406.9V1606.5H2400.1ZM2401.8 1574.2H2405.2V1606.5H2401.8ZM2403.1 1585.7H2409.9V1606.5H2403.1ZM2404.8 1583.9H2408.2V1606.5H2404.8ZM2406.1 1603.5H2412.9V1606.5H2406.1ZM2407.8 1601.7H2411.2V1606.5H2407.8ZM2409.1 1603.5H2415.9V1606.5H2409.1ZM2410.8 1601.7H2414.2V1606.5H2410.8ZM2412.1 1603.5H2418.9V1606.5H2412.1ZM2413.8 1601.7H2417.2V1606.5H2413.8ZM2415.1 1603.5H2421.9V1606.5H2415.1ZM2416.8 1601.7H2420.2V1606.5H2416.8Z" fill="#000"/>
<line x1="347" y1="257" x2="347" y2="1609" stroke="#000" stroke-width="6.5"/>
<line x1="321" y1="1605.5" x2="2430" y2="1605.5" stroke="#000" stroke-width="7"/>
<text class="t thin" transform="translate(299.3,1618.5) scale(0.945,1)" text-anchor="end">10</text>
<line x1="333" y1="1524.5" x2="347" y2="1524.5" stroke="#000" stroke-width="4.8"/>
<line x1="333" y1="1477.1" x2="347" y2="1477.1" stroke="#000" stroke-width="4.8"/>
<line x1="333" y1="1443.5" x2="347" y2="1443.5" stroke="#000" stroke-width="4.8"/>
<line x1="333" y1="1417.4" x2="347" y2="1417.4" stroke="#000" stroke-width="4.8"/>
<line x1="333" y1="1396.1" x2="347" y2="1396.1" stroke="#000" stroke-width="4.8"/>
<line x1="333" y1="1378.1" x2="347" y2="1378.1" stroke="#000" stroke-width="4.8"/>
<line x1="333" y1="1362.5" x2="347" y2="1362.5" stroke="#000" stroke-width="4.8"/>
<line x1="333" y1="1348.7" x2="347" y2="1348.7" stroke="#000" stroke-width="4.8"/>
<line x1="320" y1="1336.4" x2="347" y2="1336.4" stroke="#000" stroke-width="6"/>
<text class="t thin" transform="translate(299.3,1349.4) scale(0.945,1)" text-anchor="end">100</text>
<line x1="333" y1="1255.4" x2="347" y2="1255.4" stroke="#000" stroke-width="4.8"/>
<line x1="333" y1="1208.0" x2="347" y2="1208.0" stroke="#000" stroke-width="4.8"/>
<line x1="333" y1="1174.4" x2="347" y2="1174.4" stroke="#000" stroke-width="4.8"/>
<line x1="333" y1="1148.3" x2="347" y2="1148.3" stroke="#000" stroke-width="4.8"/>
<line x1="333" y1="1127.0" x2="347" y2="1127.0" stroke="#000" stroke-width="4.8"/>
<line x1="333" y1="1109.0" x2="347" y2="1109.0" stroke="#000" stroke-width="4.8"/>
<line x1="333" y1="1093.4" x2="347" y2="1093.4" stroke="#000" stroke-width="4.8"/>
<line x1="333" y1="1079.6" x2="347" y2="1079.6" stroke="#000" stroke-width="4.8"/>
<line x1="320" y1="1067.3" x2="347" y2="1067.3" stroke="#000" stroke-width="6"/>
<text class="t thin" transform="translate(299.3,1080.3) scale(0.945,1)" text-anchor="end">1,000</text>
<line x1="333" y1="986.3" x2="347" y2="986.3" stroke="#000" stroke-width="4.8"/>
<line x1="333" y1="938.9" x2="347" y2="938.9" stroke="#000" stroke-width="4.8"/>
<line x1="333" y1="905.3" x2="347" y2="905.3" stroke="#000" stroke-width="4.8"/>
<line x1="333" y1="879.2" x2="347" y2="879.2" stroke="#000" stroke-width="4.8"/>
<line x1="333" y1="857.9" x2="347" y2="857.9" stroke="#000" stroke-width="4.8"/>
<line x1="333" y1="839.9" x2="347" y2="839.9" stroke="#000" stroke-width="4.8"/>
<line x1="333" y1="824.3" x2="347" y2="824.3" stroke="#000" stroke-width="4.8"/>
<line x1="333" y1="810.5" x2="347" y2="810.5" stroke="#000" stroke-width="4.8"/>
<line x1="320" y1="798.2" x2="347" y2="798.2" stroke="#000" stroke-width="6"/>
<text class="t thin" transform="translate(299.3,811.2) scale(0.945,1)" text-anchor="end">10,000</text>
<line x1="333" y1="717.2" x2="347" y2="717.2" stroke="#000" stroke-width="4.8"/>
<line x1="333" y1="669.8" x2="347" y2="669.8" stroke="#000" stroke-width="4.8"/>
<line x1="333" y1="636.2" x2="347" y2="636.2" stroke="#000" stroke-width="4.8"/>
<line x1="333" y1="610.1" x2="347" y2="610.1" stroke="#000" stroke-width="4.8"/>
<line x1="333" y1="588.8" x2="347" y2="588.8" stroke="#000" stroke-width="4.8"/>
<line x1="333" y1="570.8" x2="347" y2="570.8" stroke="#000" stroke-width="4.8"/>
<line x1="333" y1="555.2" x2="347" y2="555.2" stroke="#000" stroke-width="4.8"/>
<line x1="333" y1="541.4" x2="347" y2="541.4" stroke="#000" stroke-width="4.8"/>
<line x1="320" y1="529.1" x2="347" y2="529.1" stroke="#000" stroke-width="6"/>
<text class="t thin" transform="translate(299.3,542.1) scale(0.945,1)" text-anchor="end">100,000</text>
<line x1="333" y1="448.1" x2="347" y2="448.1" stroke="#000" stroke-width="4.8"/>
<line x1="333" y1="400.7" x2="347" y2="400.7" stroke="#000" stroke-width="4.8"/>
<line x1="333" y1="367.1" x2="347" y2="367.1" stroke="#000" stroke-width="4.8"/>
<line x1="333" y1="341.0" x2="347" y2="341.0" stroke="#000" stroke-width="4.8"/>
<line x1="333" y1="319.7" x2="347" y2="319.7" stroke="#000" stroke-width="4.8"/>
<line x1="333" y1="301.7" x2="347" y2="301.7" stroke="#000" stroke-width="4.8"/>
<line x1="333" y1="286.1" x2="347" y2="286.1" stroke="#000" stroke-width="4.8"/>
<line x1="333" y1="272.3" x2="347" y2="272.3" stroke="#000" stroke-width="4.8"/>
<line x1="320" y1="260.0" x2="347" y2="260.0" stroke="#000" stroke-width="6"/>
<text class="t thin" transform="translate(299.3,273.0) scale(0.945,1)" text-anchor="end">1,000,000</text>
<line x1="436.9" y1="1605" x2="436.9" y2="1625" stroke="#000" stroke-width="6.5"/>
<line x1="618.6" y1="1605" x2="618.6" y2="1638.5" stroke="#000" stroke-width="7.5"/>
<text class="t thin" transform="translate(616.6,1696.8) scale(0.98,1)" text-anchor="middle">200</text>
<line x1="800.4" y1="1605" x2="800.4" y2="1625" stroke="#000" stroke-width="6.5"/>
<line x1="982.1" y1="1605" x2="982.1" y2="1638.5" stroke="#000" stroke-width="7.5"/>
<text class="t thin" transform="translate(980.1,1696.8) scale(0.98,1)" text-anchor="middle">400</text>
<line x1="1163.8" y1="1605" x2="1163.8" y2="1625" stroke="#000" stroke-width="6.5"/>
<line x1="1345.6" y1="1605" x2="1345.6" y2="1638.5" stroke="#000" stroke-width="7.5"/>
<text class="t thin" transform="translate(1343.6,1696.8) scale(0.98,1)" text-anchor="middle">600</text>
<line x1="1527.3" y1="1605" x2="1527.3" y2="1625" stroke="#000" stroke-width="6.5"/>
<line x1="1709.1" y1="1605" x2="1709.1" y2="1638.5" stroke="#000" stroke-width="7.5"/>
<text class="t thin" transform="translate(1707.1,1696.8) scale(0.98,1)" text-anchor="middle">800</text>
<line x1="1890.8" y1="1605" x2="1890.8" y2="1625" stroke="#000" stroke-width="6.5"/>
<line x1="2072.6" y1="1605" x2="2072.6" y2="1638.5" stroke="#000" stroke-width="7.5"/>
<text class="t thin" transform="translate(2070.6,1696.8) scale(0.98,1)" text-anchor="middle">1 000</text>
<line x1="2254.3" y1="1605" x2="2254.3" y2="1625" stroke="#000" stroke-width="6.5"/>
<text x="0" y="0" transform="translate(76.5,1085.5) rotate(-90) scale(0.965,1)" font-size="76.5" fill="#0c0c0c" class="thin">Counts</text>
<text x="1182.3" y="1815" font-size="73" letter-spacing="1" fill="#0c0c0c" class="thin">Energy, keV</text>
<text transform="translate(494.5,367.5) scale(0.945,1)" font-size="69" fill="#0c0c0c" class="thin">44</text>
<text x="565.5" y="427.5" font-size="107" fill="#0c0c0c" class="thin">T<tspan dx="7.5">i</tspan></text>
</g>
</svg></body></html>
